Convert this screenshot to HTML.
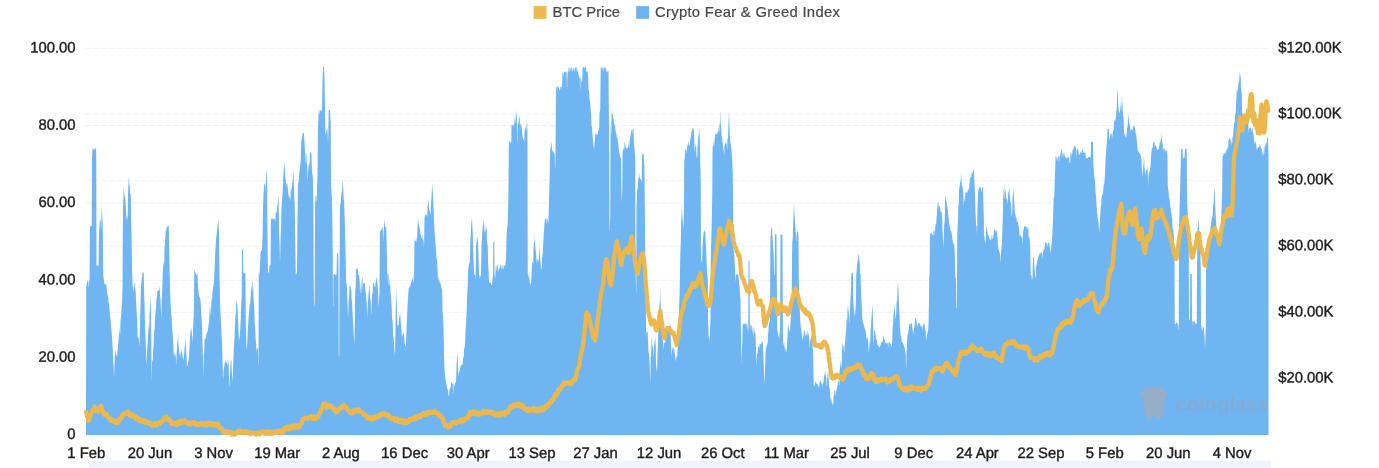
<!DOCTYPE html>
<html><head><meta charset="utf-8"><title>Crypto Fear &amp; Greed Index</title>
<style>
html,body{margin:0;padding:0;background:#fff;}
body{width:1379px;height:468px;overflow:hidden;font-family:"Liberation Sans",sans-serif;}
svg{display:block;will-change:transform;}
text{font-family:"Liberation Sans",sans-serif;font-size:15.2px;letter-spacing:0;fill:#1c1c1c;stroke:#1c1c1c;stroke-width:0.4px;}
.leg text{fill:#464646;stroke:#464646;stroke-width:0.2px;font-size:14.8px;letter-spacing:0;}
.grid line{stroke:#f0f0f0;stroke-width:1;stroke-dasharray:6 2;}
</style></head><body>
<svg width="1379" height="468" viewBox="0 0 1379 468">
<defs><clipPath id="cp"><rect x="86" y="40" width="1182.6" height="395"/></clipPath></defs>
<rect x="88.8" y="461" width="1182.2" height="7" fill="#eef3fc"/>
<g class="grid"><line x1="85.5" x2="1268" y1="48.25" y2="48.25"/><line x1="85.5" x2="1268" y1="114.25" y2="114.25"/><line x1="85.5" x2="1268" y1="125.60" y2="125.60"/><line x1="85.5" x2="1268" y1="180.25" y2="180.25"/><line x1="85.5" x2="1268" y1="202.95" y2="202.95"/><line x1="85.5" x2="1268" y1="246.25" y2="246.25"/><line x1="85.5" x2="1268" y1="280.30" y2="280.30"/><line x1="85.5" x2="1268" y1="312.25" y2="312.25"/><line x1="85.5" x2="1268" y1="357.65" y2="357.65"/><line x1="85.5" x2="1268" y1="378.25" y2="378.25"/></g>
<path d="M86.00,435.0 L86.00,405.4 L86.25,281.7 L86.50,286.0 L86.75,285.9 L87.00,281.6 L87.25,281.5 L87.50,282.2 L87.75,280.8 L88.00,280.6 L88.25,280.5 L88.50,286.7 L88.75,286.6 L89.00,281.3 L89.25,281.3 L89.50,280.7 L89.75,251.8 L90.00,225.8 L90.25,225.8 L90.50,225.8 L90.75,227.0 L91.00,226.2 L91.25,226.2 L91.50,226.3 L91.75,226.3 L92.00,157.3 L92.25,154.4 L92.50,148.2 L92.75,148.2 L93.00,148.5 L93.25,148.5 L93.50,149.7 L93.75,149.7 L94.00,148.8 L94.25,148.8 L94.50,149.2 L94.75,149.2 L95.00,148.8 L95.25,148.8 L95.50,149.3 L95.75,148.2 L96.00,148.2 L96.25,155.2 L96.50,265.9 L96.75,265.9 L97.00,265.2 L97.25,265.2 L97.50,264.9 L97.75,264.9 L98.00,265.5 L98.25,265.5 L98.50,268.7 L98.75,252.4 L99.00,232.9 L99.25,229.5 L99.50,225.2 L99.75,221.7 L100.00,219.6 L100.25,219.2 L100.50,221.0 L100.75,220.7 L101.00,229.7 L101.25,227.2 L101.50,212.9 L101.75,210.4 L102.00,207.0 L102.25,216.2 L102.50,219.7 L102.75,223.0 L103.00,248.3 L103.25,275.3 L103.50,276.5 L103.75,279.0 L104.00,281.1 L104.25,282.8 L104.50,284.1 L104.75,284.1 L105.00,284.8 L105.25,284.8 L105.50,284.9 L105.75,284.0 L106.00,284.0 L106.25,284.0 L106.50,286.6 L106.75,289.1 L107.00,291.9 L107.25,293.2 L107.50,294.9 L107.75,295.9 L108.00,296.6 L108.25,297.6 L108.50,302.5 L108.75,303.5 L109.00,302.4 L109.25,305.8 L109.50,310.2 L109.75,312.7 L110.00,315.4 L110.25,317.9 L110.50,319.5 L110.75,322.0 L111.00,325.4 L111.25,328.5 L111.50,330.5 L111.75,333.6 L112.00,337.2 L112.25,341.4 L112.50,345.7 L112.75,349.8 L113.00,355.5 L113.25,360.5 L113.50,364.0 L113.75,368.6 L114.00,377.8 L114.25,370.9 L114.50,364.3 L114.75,359.9 L115.00,350.2 L115.25,351.5 L115.50,352.2 L115.75,353.2 L116.00,354.4 L116.25,355.0 L116.50,355.3 L116.75,356.0 L117.00,357.8 L117.25,355.3 L117.50,351.5 L117.75,349.0 L118.00,347.2 L118.25,344.0 L118.50,340.5 L118.75,337.4 L119.00,334.2 L119.25,331.7 L119.50,329.6 L119.75,327.1 L120.00,335.6 L120.25,333.6 L120.50,321.0 L120.75,319.0 L121.00,316.6 L121.25,314.6 L121.50,309.3 L121.75,304.3 L122.00,304.9 L122.25,298.0 L122.50,286.0 L122.75,242.7 L123.00,207.9 L123.25,201.2 L123.50,195.1 L123.75,187.0 L124.00,189.7 L124.25,192.2 L124.50,194.9 L124.75,196.2 L125.00,197.7 L125.25,199.0 L125.50,200.6 L125.75,205.6 L126.00,210.0 L126.25,215.0 L126.50,216.8 L126.75,218.5 L127.00,221.0 L127.25,215.1 L127.50,220.4 L127.75,214.6 L128.00,195.5 L128.25,188.8 L128.50,182.3 L128.75,179.2 L129.00,175.8 L129.25,185.8 L129.50,183.6 L129.75,187.3 L130.00,192.3 L130.25,193.5 L130.50,193.9 L130.75,195.2 L131.00,211.5 L131.25,224.8 L131.50,232.5 L131.75,248.7 L132.00,268.9 L132.25,275.2 L132.50,283.9 L132.75,288.1 L133.00,285.3 L133.25,286.6 L133.50,290.9 L133.75,292.2 L134.00,288.7 L134.25,287.0 L134.50,284.3 L134.75,283.1 L135.00,281.5 L135.25,286.5 L135.50,289.9 L135.75,294.1 L136.00,299.5 L136.25,304.5 L136.50,309.6 L136.75,313.4 L137.00,317.5 L137.25,321.2 L137.50,333.8 L137.75,338.0 L138.00,335.7 L138.25,338.2 L138.50,336.8 L138.75,339.3 L139.00,341.6 L139.25,344.1 L139.50,346.5 L139.75,335.3 L140.00,325.6 L140.25,314.0 L140.50,306.8 L140.75,295.1 L141.00,286.5 L141.25,284.0 L141.50,281.6 L141.75,279.1 L142.00,278.0 L142.25,274.9 L142.50,272.5 L142.75,272.5 L143.00,272.5 L143.25,272.5 L143.50,272.5 L143.75,272.5 L144.00,289.9 L144.25,297.4 L144.50,304.6 L144.75,314.6 L145.00,324.2 L145.25,330.8 L145.50,337.4 L145.75,344.1 L146.00,349.9 L146.25,355.3 L146.50,365.1 L146.75,361.4 L147.00,353.4 L147.25,349.6 L147.50,345.6 L147.75,341.5 L148.00,337.1 L148.25,332.9 L148.50,328.6 L148.75,324.4 L149.00,329.4 L149.25,326.0 L149.50,314.8 L149.75,310.6 L150.00,307.1 L150.25,303.0 L150.50,298.2 L150.75,294.0 L151.00,315.7 L151.25,336.9 L151.50,365.9 L151.75,381.5 L152.00,363.6 L152.25,359.2 L152.50,361.9 L152.75,360.2 L153.00,354.4 L153.25,349.4 L153.50,345.3 L153.75,340.3 L154.00,334.7 L154.25,329.7 L154.50,330.3 L154.75,327.2 L155.00,318.2 L155.25,315.1 L155.50,312.6 L155.75,308.4 L156.00,309.1 L156.25,304.9 L156.50,298.4 L156.75,296.8 L157.00,295.9 L157.25,294.3 L157.50,291.5 L157.75,290.3 L158.00,290.4 L158.25,289.6 L158.50,290.6 L158.75,289.8 L159.00,291.4 L159.25,290.6 L159.50,284.0 L159.75,289.2 L160.00,293.5 L160.25,297.2 L160.50,299.1 L160.75,305.4 L161.00,311.9 L161.25,319.4 L161.50,309.8 L161.75,299.8 L162.00,295.1 L162.25,289.2 L162.50,282.1 L162.75,272.6 L163.00,269.9 L163.25,264.9 L163.50,263.6 L163.75,260.7 L164.00,266.1 L164.25,263.3 L164.50,247.8 L164.75,245.0 L165.00,242.8 L165.25,238.8 L165.50,235.3 L165.75,231.2 L166.00,225.8 L166.25,225.8 L166.50,230.8 L166.75,230.8 L167.00,226.8 L167.25,226.8 L167.50,226.8 L167.75,226.8 L168.00,225.8 L168.25,225.8 L168.50,225.8 L168.75,225.8 L169.00,242.1 L169.25,255.3 L169.50,265.3 L169.75,279.8 L170.00,287.7 L170.25,294.0 L170.50,302.5 L170.75,306.6 L171.00,310.8 L171.25,315.0 L171.50,316.4 L171.75,320.5 L172.00,325.1 L172.25,328.8 L172.50,331.6 L172.75,335.3 L173.00,339.7 L173.25,343.8 L173.50,348.5 L173.75,352.7 L174.00,356.5 L174.25,356.7 L174.50,352.8 L174.75,353.0 L175.00,356.1 L175.25,356.3 L175.50,353.9 L175.75,354.1 L176.00,364.0 L176.25,364.2 L176.50,355.5 L176.75,352.4 L177.00,345.7 L177.25,342.6 L177.50,341.8 L177.75,338.5 L178.00,331.5 L178.25,337.4 L178.50,344.7 L178.75,348.9 L179.00,348.0 L179.25,351.3 L179.50,354.3 L179.75,353.8 L180.00,357.8 L180.25,357.3 L180.50,353.4 L180.75,352.9 L181.00,352.4 L181.25,351.9 L181.50,350.9 L181.75,349.5 L182.00,349.0 L182.25,361.2 L182.50,352.1 L182.75,353.4 L183.00,358.1 L183.25,359.7 L183.50,357.7 L183.75,359.4 L184.00,356.1 L184.25,352.7 L184.50,349.5 L184.75,346.0 L185.00,347.5 L185.25,344.1 L185.50,335.2 L185.75,340.9 L186.00,346.4 L186.25,351.9 L186.50,356.6 L186.75,361.6 L187.00,367.2 L187.25,366.4 L187.50,365.1 L187.75,364.3 L188.00,363.1 L188.25,361.8 L188.50,360.7 L188.75,359.5 L189.00,355.5 L189.25,351.3 L189.50,347.1 L189.75,342.1 L190.00,337.3 L190.25,335.2 L190.50,332.4 L190.75,330.3 L191.00,329.0 L191.25,327.8 L191.50,330.3 L191.75,332.4 L192.00,334.7 L192.25,337.2 L192.50,343.4 L192.75,338.4 L193.00,329.0 L193.25,324.0 L193.50,319.0 L193.75,312.8 L194.00,307.6 L194.25,271.9 L194.50,269.0 L194.75,270.6 L195.00,271.7 L195.25,272.4 L195.50,273.1 L195.75,274.0 L196.00,274.0 L196.25,274.3 L196.50,275.2 L196.75,275.2 L197.00,274.1 L197.25,274.0 L197.50,274.0 L197.75,282.7 L198.00,285.4 L198.25,288.8 L198.50,291.8 L198.75,295.1 L199.00,295.5 L199.25,296.3 L199.50,296.8 L199.75,297.4 L200.00,298.4 L200.25,299.0 L200.50,299.6 L200.75,303.8 L201.00,308.8 L201.25,312.9 L201.50,316.0 L201.75,320.1 L202.00,325.2 L202.25,333.5 L202.50,343.2 L202.75,351.6 L203.00,362.5 L203.25,375.7 L203.50,365.9 L203.75,355.3 L204.00,355.4 L204.25,350.4 L204.50,339.7 L204.75,339.1 L205.00,338.3 L205.25,337.6 L205.50,339.6 L205.75,338.8 L206.00,335.7 L206.25,334.8 L206.50,334.3 L206.75,333.6 L207.00,332.9 L207.25,332.3 L207.50,331.9 L207.75,331.1 L208.00,329.5 L208.25,327.0 L208.50,325.5 L208.75,323.0 L209.00,322.3 L209.25,319.2 L209.50,312.9 L209.75,309.7 L210.00,306.8 L210.25,305.6 L210.50,316.0 L210.75,314.7 L211.00,309.2 L211.25,308.0 L211.50,299.3 L211.75,298.0 L212.00,300.8 L212.25,298.3 L212.50,291.7 L212.75,289.2 L213.00,288.0 L213.25,286.3 L213.50,285.8 L213.75,284.2 L214.00,280.4 L214.25,272.9 L214.50,271.4 L214.75,266.4 L215.00,257.3 L215.25,252.3 L215.50,248.8 L215.75,243.8 L216.00,239.7 L216.25,237.2 L216.50,235.8 L216.75,233.3 L217.00,230.3 L217.25,227.8 L217.50,225.8 L217.75,223.6 L218.00,223.6 L218.25,218.2 L218.50,224.2 L218.75,228.8 L219.00,232.9 L219.25,255.4 L219.50,277.5 L219.75,286.3 L220.00,298.0 L220.25,306.7 L220.50,312.5 L220.75,317.5 L221.00,322.2 L221.25,327.2 L221.50,333.7 L221.75,337.9 L222.00,340.5 L222.25,350.5 L222.50,359.1 L222.75,366.6 L223.00,379.9 L223.25,378.1 L223.50,371.4 L223.75,369.6 L224.00,368.1 L224.25,366.8 L224.50,364.5 L224.75,363.2 L225.00,361.5 L225.25,361.4 L225.50,361.3 L225.75,361.4 L226.00,362.1 L226.25,362.0 L226.50,363.3 L226.75,363.1 L227.00,360.7 L227.25,360.5 L227.50,365.2 L227.75,365.2 L228.00,365.2 L228.25,360.2 L228.50,360.2 L228.75,367.9 L229.00,377.9 L229.25,382.9 L229.50,388.2 L229.75,383.2 L230.00,374.6 L230.25,370.0 L230.50,365.7 L230.75,360.2 L231.00,360.2 L231.25,360.2 L231.50,360.2 L231.75,371.6 L232.00,374.5 L232.25,378.2 L232.50,381.9 L232.75,375.6 L233.00,369.5 L233.25,362.8 L233.50,356.4 L233.75,349.7 L234.00,346.2 L234.25,342.0 L234.50,337.4 L234.75,331.1 L235.00,325.1 L235.25,320.1 L235.50,316.8 L235.75,311.8 L236.00,316.3 L236.25,299.0 L236.50,301.7 L236.75,302.9 L237.00,302.9 L237.25,304.7 L237.50,307.1 L237.75,312.9 L238.00,318.6 L238.25,324.5 L238.50,330.2 L238.75,336.0 L239.00,341.6 L239.25,339.1 L239.50,338.6 L239.75,336.1 L240.00,332.2 L240.25,328.8 L240.50,325.1 L240.75,318.4 L241.00,310.9 L241.25,304.2 L241.50,300.3 L241.75,295.3 L242.00,249.5 L242.25,249.5 L242.50,249.5 L242.75,249.5 L243.00,249.5 L243.25,272.3 L243.50,273.4 L243.75,273.5 L244.00,272.5 L244.25,272.6 L244.50,273.2 L244.75,273.3 L245.00,273.6 L245.25,273.8 L245.50,273.8 L245.75,324.6 L246.00,333.1 L246.25,340.6 L246.50,345.0 L246.75,350.0 L247.00,348.8 L247.25,344.6 L247.50,336.6 L247.75,330.4 L248.00,326.9 L248.25,323.8 L248.50,318.4 L248.75,315.2 L249.00,312.9 L249.25,309.8 L249.50,306.2 L249.75,303.1 L250.00,304.9 L250.25,302.4 L250.50,297.9 L250.75,295.4 L251.00,290.5 L251.25,288.0 L251.50,286.0 L251.75,284.0 L252.00,292.4 L252.25,290.4 L252.50,276.5 L252.75,280.9 L253.00,285.1 L253.25,289.3 L253.50,297.3 L253.75,302.3 L254.00,304.5 L254.25,308.6 L254.50,317.2 L254.75,323.4 L255.00,324.9 L255.25,329.1 L255.50,336.4 L255.75,340.5 L256.00,342.7 L256.25,347.7 L256.50,350.7 L256.75,351.0 L257.00,348.0 L257.25,348.3 L257.50,348.4 L257.75,348.8 L258.00,349.8 L258.25,364.8 L258.50,364.1 L258.75,273.3 L259.00,272.8 L259.25,271.6 L259.50,277.9 L259.75,271.7 L260.00,262.7 L260.25,260.8 L260.50,253.7 L260.75,251.8 L261.00,250.2 L261.25,250.2 L261.50,250.8 L261.75,250.8 L262.00,249.7 L262.25,240.9 L262.50,238.4 L262.75,225.9 L263.00,207.2 L263.25,201.4 L263.50,195.6 L263.75,189.7 L264.00,187.7 L264.25,184.6 L264.50,183.6 L264.75,183.6 L265.00,184.3 L265.25,184.3 L265.50,192.0 L265.75,187.7 L266.00,174.4 L266.25,172.3 L266.50,168.2 L266.75,176.3 L267.00,182.3 L267.25,207.3 L267.50,234.9 L267.75,254.9 L268.00,272.6 L268.25,272.6 L268.50,272.3 L268.75,272.3 L269.00,273.0 L269.25,269.3 L269.50,265.2 L269.75,265.2 L270.00,265.5 L270.25,265.5 L270.50,265.3 L270.75,242.2 L271.00,218.2 L271.25,218.2 L271.50,218.7 L271.75,218.7 L272.00,219.6 L272.25,219.6 L272.50,218.3 L272.75,218.3 L273.00,219.2 L273.25,219.2 L273.50,218.2 L273.75,218.2 L274.00,219.4 L274.25,219.4 L274.50,218.4 L274.75,218.4 L275.00,223.6 L275.25,221.1 L275.50,214.5 L275.75,212.0 L276.00,212.0 L276.25,212.0 L276.50,213.1 L276.75,213.1 L277.00,209.1 L277.25,206.2 L277.50,204.9 L277.75,202.4 L278.00,198.4 L278.25,194.5 L278.50,201.2 L278.75,207.1 L279.00,223.2 L279.25,238.2 L279.50,242.3 L279.75,249.8 L280.00,263.1 L280.25,254.8 L280.50,241.0 L280.75,232.6 L281.00,229.4 L281.25,221.1 L281.50,209.0 L281.75,205.9 L282.00,200.9 L282.25,197.8 L282.50,195.2 L282.75,189.6 L283.00,184.2 L283.25,178.6 L283.50,173.2 L283.75,169.5 L284.00,165.7 L284.25,160.8 L284.50,165.3 L284.75,169.1 L285.00,173.1 L285.25,175.9 L285.50,177.7 L285.75,180.5 L286.00,184.1 L286.25,184.1 L286.50,184.0 L286.75,184.0 L287.00,187.8 L287.25,183.2 L287.50,183.2 L287.75,189.7 L288.00,189.0 L288.25,191.8 L288.50,195.5 L288.75,195.5 L289.00,198.3 L289.25,198.3 L289.50,195.4 L289.75,195.4 L290.00,200.7 L290.25,198.2 L290.50,200.8 L290.75,187.0 L291.00,191.3 L291.25,191.3 L291.50,187.7 L291.75,187.7 L292.00,187.3 L292.25,184.0 L292.50,181.2 L292.75,177.9 L293.00,175.4 L293.25,173.7 L293.50,172.0 L293.75,180.3 L294.00,188.3 L294.25,195.8 L294.50,200.4 L294.75,205.4 L295.00,222.7 L295.25,240.2 L295.50,258.6 L295.75,274.4 L296.00,274.1 L296.25,274.1 L296.50,274.3 L296.75,274.3 L297.00,266.1 L297.25,246.1 L297.50,219.4 L297.75,201.0 L298.00,182.1 L298.25,180.0 L298.50,184.1 L298.75,182.0 L299.00,175.0 L299.25,173.3 L299.50,171.2 L299.75,169.4 L300.00,167.8 L300.25,165.3 L300.50,162.1 L300.75,159.6 L301.00,150.9 L301.25,141.5 L301.50,140.5 L301.75,138.8 L302.00,138.0 L302.25,136.4 L302.50,133.0 L302.75,133.0 L303.00,133.0 L303.25,133.0 L303.50,133.0 L303.75,133.0 L304.00,135.8 L304.25,138.5 L304.50,141.6 L304.75,147.2 L305.00,153.6 L305.25,153.6 L305.50,162.9 L305.75,162.9 L306.00,152.9 L306.25,152.5 L306.50,155.8 L306.75,163.3 L307.00,164.6 L307.25,166.1 L307.50,179.4 L307.75,178.9 L308.00,171.0 L308.25,170.5 L308.50,165.6 L308.75,165.1 L309.00,163.9 L309.25,162.6 L309.50,166.6 L309.75,162.1 L310.00,152.5 L310.25,152.5 L310.50,152.5 L310.75,152.5 L311.00,152.5 L311.25,152.5 L311.50,156.4 L311.75,164.1 L312.00,171.4 L312.25,174.5 L312.50,173.5 L312.75,176.6 L313.00,184.9 L313.25,198.6 L313.50,208.1 L313.75,275.1 L314.00,304.4 L314.25,304.4 L314.50,308.8 L314.75,278.8 L315.00,207.5 L315.25,201.3 L315.50,194.5 L315.75,196.2 L316.00,196.0 L316.25,196.5 L316.50,201.8 L316.75,202.3 L317.00,189.1 L317.25,180.7 L317.50,176.6 L317.75,147.1 L318.00,126.6 L318.25,121.6 L318.50,115.5 L318.75,110.0 L319.00,110.0 L319.25,110.3 L319.50,114.0 L319.75,114.0 L320.00,110.4 L320.25,110.4 L320.50,110.0 L320.75,110.0 L321.00,110.2 L321.25,110.2 L321.50,111.3 L321.75,111.3 L322.00,111.4 L322.25,95.2 L322.50,80.6 L322.75,75.4 L323.00,67.0 L323.25,67.0 L323.50,67.0 L323.75,67.0 L324.00,67.0 L324.25,72.3 L324.50,78.5 L324.75,94.7 L325.00,110.8 L325.25,123.3 L325.50,135.5 L325.75,133.9 L326.00,133.3 L326.25,131.8 L326.50,130.2 L326.75,128.8 L327.00,128.8 L327.25,129.7 L327.50,129.7 L327.75,135.4 L328.00,145.8 L328.25,135.8 L328.50,120.9 L328.75,110.0 L329.00,110.0 L329.25,110.0 L329.50,110.0 L329.75,110.0 L330.00,110.0 L330.25,114.8 L330.50,119.6 L330.75,123.7 L331.00,182.9 L331.25,188.5 L331.50,190.8 L331.75,196.2 L332.00,199.6 L332.25,215.9 L332.50,232.3 L332.75,254.8 L333.00,306.3 L333.25,306.3 L333.50,274.3 L333.75,274.3 L334.00,274.2 L334.25,274.0 L334.50,274.0 L334.75,274.0 L335.00,274.0 L335.25,274.0 L335.50,275.8 L335.75,275.8 L336.00,275.2 L336.25,275.2 L336.50,274.0 L336.75,265.2 L337.00,253.2 L337.25,253.2 L337.50,253.2 L337.75,253.2 L338.00,253.2 L338.25,253.2 L338.50,269.5 L338.75,354.6 L339.00,356.5 L339.25,356.5 L339.50,274.5 L339.75,242.5 L340.00,207.2 L340.25,203.4 L340.50,204.2 L340.75,202.7 L341.00,197.2 L341.25,195.7 L341.50,193.7 L341.75,192.2 L342.00,191.3 L342.25,188.2 L342.50,183.5 L342.75,179.5 L343.00,184.5 L343.25,188.7 L343.50,196.3 L343.75,200.1 L344.00,199.8 L344.25,206.4 L344.50,213.3 L344.75,220.0 L345.00,229.5 L345.25,239.5 L345.50,249.7 L345.75,263.5 L346.00,279.0 L346.25,282.4 L346.50,283.5 L346.75,285.2 L347.00,288.6 L347.25,296.1 L347.50,302.6 L347.75,308.9 L348.00,319.1 L348.25,314.1 L348.50,304.0 L348.75,299.0 L349.00,296.9 L349.25,291.9 L349.50,284.0 L349.75,286.1 L350.00,285.4 L350.25,286.1 L350.50,286.7 L350.75,287.5 L351.00,289.4 L351.25,290.3 L351.50,296.2 L351.75,300.3 L352.00,301.6 L352.25,306.6 L352.50,312.8 L352.75,317.0 L353.00,320.3 L353.25,324.4 L353.50,330.2 L353.75,335.2 L354.00,340.5 L354.25,344.2 L354.50,337.8 L354.75,322.8 L355.00,303.6 L355.25,290.3 L355.50,287.8 L355.75,286.4 L356.00,268.2 L356.25,268.2 L356.50,269.2 L356.75,269.2 L357.00,269.3 L357.25,269.3 L357.50,270.6 L357.75,268.2 L358.00,268.2 L358.25,276.6 L358.50,275.0 L358.75,275.0 L359.00,274.0 L359.25,276.5 L359.50,280.1 L359.75,281.4 L360.00,292.3 L360.25,293.6 L360.50,284.8 L360.75,284.2 L361.00,292.7 L361.25,292.0 L361.50,281.6 L361.75,280.4 L362.00,289.9 L362.25,288.6 L362.50,276.5 L362.75,277.6 L363.00,283.4 L363.25,284.4 L363.50,282.0 L363.75,283.0 L364.00,283.0 L364.25,283.5 L364.50,283.0 L364.75,283.5 L365.00,285.3 L365.25,287.8 L365.50,290.0 L365.75,292.5 L366.00,294.2 L366.25,296.7 L366.50,301.3 L366.75,303.3 L367.00,315.8 L367.25,317.8 L367.50,307.6 L367.75,304.5 L368.00,301.3 L368.25,298.2 L368.50,294.1 L368.75,291.6 L369.00,290.0 L369.25,287.5 L369.50,284.0 L369.75,288.5 L370.00,295.7 L370.25,299.5 L370.50,299.3 L370.75,303.5 L371.00,311.2 L371.25,315.4 L371.50,306.7 L371.75,301.7 L372.00,297.5 L372.25,293.7 L372.50,294.4 L372.75,290.7 L373.00,281.5 L373.25,281.8 L373.50,283.7 L373.75,284.0 L374.00,283.5 L374.25,283.8 L374.50,286.2 L374.75,286.5 L375.00,287.7 L375.25,286.8 L375.50,282.7 L375.75,281.7 L376.00,281.2 L376.25,280.3 L376.50,278.5 L376.75,277.6 L377.00,276.5 L377.25,281.2 L377.50,284.2 L377.75,287.9 L378.00,291.6 L378.25,296.6 L378.50,301.8 L378.75,306.8 L379.00,301.5 L379.25,295.7 L379.50,289.7 L379.75,255.2 L380.00,232.1 L380.25,230.8 L380.50,230.9 L380.75,230.9 L381.00,229.6 L381.25,229.6 L381.50,229.9 L381.75,229.0 L382.00,228.4 L382.25,227.5 L382.50,225.8 L382.75,230.5 L383.00,238.1 L383.25,241.8 L383.50,233.8 L383.75,229.1 L384.00,223.1 L384.25,218.2 L384.50,222.0 L384.75,224.5 L385.00,226.1 L385.25,226.4 L385.50,227.5 L385.75,227.8 L386.00,226.8 L386.25,227.1 L386.50,237.9 L386.75,247.9 L387.00,258.4 L387.25,275.4 L387.50,274.3 L387.75,274.3 L388.00,285.3 L388.25,285.3 L388.50,274.0 L388.75,274.0 L389.00,274.0 L389.25,280.1 L389.50,283.8 L389.75,285.7 L390.00,283.9 L390.25,285.8 L390.50,291.1 L390.75,295.3 L391.00,295.0 L391.25,299.2 L391.50,304.3 L391.75,308.5 L392.00,316.5 L392.25,320.3 L392.50,319.9 L392.75,323.7 L393.00,332.7 L393.25,336.9 L393.50,336.3 L393.75,340.5 L394.00,343.4 L394.25,346.7 L394.50,350.4 L394.75,352.9 L395.00,356.9 L395.25,341.9 L395.50,324.7 L395.75,313.0 L396.00,302.1 L396.25,289.0 L396.50,297.2 L396.75,303.8 L397.00,309.6 L397.25,318.4 L397.50,326.6 L397.75,325.3 L398.00,325.4 L398.25,324.2 L398.50,326.3 L398.75,324.6 L399.00,319.1 L399.25,317.4 L399.50,316.0 L399.75,314.4 L400.00,311.5 L400.25,315.0 L400.50,319.1 L400.75,322.2 L401.00,324.9 L401.25,328.0 L401.50,331.2 L401.75,334.3 L402.00,336.8 L402.25,336.2 L402.50,335.5 L402.75,334.9 L403.00,334.2 L403.25,333.3 L403.50,333.7 L403.75,331.5 L404.00,334.5 L404.25,336.4 L404.50,342.3 L404.75,344.1 L405.00,345.4 L405.25,347.3 L405.50,344.8 L405.75,346.7 L406.00,342.2 L406.25,336.3 L406.50,329.6 L406.75,324.0 L407.00,318.4 L407.25,312.8 L407.50,306.7 L407.75,302.5 L408.00,298.7 L408.25,294.5 L408.50,291.5 L408.75,287.7 L409.00,288.3 L409.25,287.8 L409.50,286.5 L409.75,286.0 L410.00,287.6 L410.25,287.1 L410.50,283.7 L410.75,283.2 L411.00,283.2 L411.25,282.7 L411.50,280.9 L411.75,280.2 L412.00,280.6 L412.25,279.9 L412.50,278.7 L412.75,277.4 L413.00,275.8 L413.25,274.6 L413.50,282.3 L413.75,282.3 L414.00,279.5 L414.25,263.8 L414.50,240.8 L414.75,240.2 L415.00,238.2 L415.25,241.0 L415.50,240.5 L415.75,241.2 L416.00,242.0 L416.25,242.8 L416.50,240.0 L416.75,236.7 L417.00,239.1 L417.25,235.6 L417.50,225.8 L417.75,222.4 L418.00,218.2 L418.25,220.5 L418.50,222.7 L418.75,224.2 L419.00,225.4 L419.25,226.2 L419.50,227.6 L419.75,228.4 L420.00,230.4 L420.25,231.3 L420.50,233.5 L420.75,235.4 L421.00,234.3 L421.25,236.2 L421.50,238.9 L421.75,238.3 L422.00,236.8 L422.25,236.1 L422.50,234.5 L422.75,241.4 L423.00,237.8 L423.25,239.5 L423.50,241.5 L423.75,243.2 L424.00,249.1 L424.25,235.4 L424.50,217.3 L424.75,216.5 L425.00,215.7 L425.25,214.5 L425.50,215.5 L425.75,215.5 L426.00,214.9 L426.25,214.9 L426.50,215.0 L426.75,213.1 L427.00,217.2 L427.25,215.3 L427.50,207.2 L427.75,205.4 L428.00,204.4 L428.25,202.5 L428.50,199.5 L428.75,201.6 L429.00,208.8 L429.25,210.7 L429.50,209.1 L429.75,211.6 L430.00,212.4 L430.25,214.9 L430.50,213.2 L430.75,209.5 L431.00,204.0 L431.25,200.2 L431.50,196.4 L431.75,192.4 L432.00,188.4 L432.25,183.2 L432.50,188.1 L432.75,192.8 L433.00,197.5 L433.25,202.2 L433.50,208.7 L433.75,214.2 L434.00,219.4 L434.25,224.9 L434.50,230.0 L434.75,233.1 L435.00,236.2 L435.25,239.3 L435.50,243.3 L435.75,247.1 L436.00,250.4 L436.25,254.1 L436.50,257.2 L436.75,258.9 L437.00,260.9 L437.25,262.5 L437.50,270.4 L437.75,274.9 L438.00,279.3 L438.25,280.2 L438.50,276.7 L438.75,277.3 L439.00,282.4 L439.25,283.1 L439.50,279.2 L439.75,280.0 L440.00,282.1 L440.25,282.9 L440.50,283.4 L440.75,284.6 L441.00,286.4 L441.25,287.3 L441.50,288.2 L441.75,289.1 L442.00,289.4 L442.25,295.3 L442.50,311.1 L442.75,316.9 L443.00,313.1 L443.25,318.9 L443.50,327.1 L443.75,339.6 L444.00,353.4 L444.25,363.4 L444.50,370.2 L444.75,372.7 L445.00,375.0 L445.25,377.5 L445.50,379.7 L445.75,380.9 L446.00,382.4 L446.25,383.6 L446.50,384.5 L446.75,385.5 L447.00,387.2 L447.25,388.2 L447.50,389.1 L447.75,390.1 L448.00,389.8 L448.25,390.2 L448.50,395.9 L448.75,396.3 L449.00,395.1 L449.25,394.2 L449.50,390.4 L449.75,389.5 L450.00,387.7 L450.25,386.8 L450.50,389.1 L450.75,388.1 L451.00,384.5 L451.25,383.5 L451.50,381.5 L451.75,381.8 L452.00,382.0 L452.25,382.5 L452.50,383.9 L452.75,384.1 L453.00,393.6 L453.25,393.8 L453.50,383.7 L453.75,383.9 L454.00,384.4 L454.25,384.0 L454.50,386.9 L454.75,386.6 L455.00,383.5 L455.25,383.2 L455.50,382.4 L455.75,382.1 L456.00,381.9 L456.25,374.4 L456.50,367.4 L456.75,362.4 L457.00,357.1 L457.25,351.5 L457.50,355.9 L457.75,360.1 L458.00,366.1 L458.25,371.1 L458.50,375.8 L458.75,374.8 L459.00,372.8 L459.25,371.8 L459.50,371.6 L459.75,370.3 L460.00,368.8 L460.25,367.5 L460.50,366.1 L460.75,365.6 L461.00,366.2 L461.25,365.7 L461.50,364.9 L461.75,364.4 L462.00,364.0 L462.25,363.5 L462.50,365.1 L462.75,364.6 L463.00,359.9 L463.25,357.4 L463.50,358.3 L463.75,355.8 L464.00,349.3 L464.25,346.8 L464.50,350.1 L464.75,346.7 L465.00,343.9 L465.25,340.6 L465.50,330.7 L465.75,327.4 L466.00,324.7 L466.25,318.5 L466.50,316.7 L466.75,310.5 L467.00,299.3 L467.25,294.3 L467.50,289.3 L467.75,284.3 L468.00,273.1 L468.25,268.9 L468.50,267.2 L468.75,266.7 L469.00,264.0 L469.25,263.5 L469.50,263.3 L469.75,262.8 L470.00,253.2 L470.25,243.2 L470.50,238.3 L470.75,235.2 L471.00,227.2 L471.25,224.1 L471.50,220.5 L471.75,219.9 L472.00,218.2 L472.25,225.1 L472.50,228.3 L472.75,232.9 L473.00,243.1 L473.25,251.4 L473.50,257.5 L473.75,264.2 L474.00,271.3 L474.25,275.0 L474.50,275.0 L474.75,275.0 L475.00,274.8 L475.25,274.8 L475.50,279.6 L475.75,267.6 L476.00,247.6 L476.25,244.2 L476.50,241.6 L476.75,238.2 L477.00,238.1 L477.25,234.5 L477.50,238.2 L477.75,240.7 L478.00,242.1 L478.25,248.8 L478.50,256.8 L478.75,263.5 L479.00,275.4 L479.25,279.9 L479.50,274.5 L479.75,274.5 L480.00,277.5 L480.25,277.5 L480.50,274.9 L480.75,274.9 L481.00,275.4 L481.25,262.2 L481.50,246.0 L481.75,242.2 L482.00,237.6 L482.25,233.8 L482.50,230.0 L482.75,227.2 L483.00,225.4 L483.25,222.6 L483.50,218.2 L483.75,221.8 L484.00,223.9 L484.25,226.1 L484.50,232.6 L484.75,231.9 L485.00,230.5 L485.25,229.9 L485.50,224.5 L485.75,234.0 L486.00,227.2 L486.25,227.8 L486.50,227.6 L486.75,230.7 L487.00,243.2 L487.25,246.3 L487.50,239.7 L487.75,245.9 L488.00,258.4 L488.25,264.6 L488.50,269.2 L488.75,275.4 L489.00,279.7 L489.25,282.2 L489.50,282.4 L489.75,282.6 L490.00,283.0 L490.25,283.2 L490.50,282.6 L490.75,282.8 L491.00,283.9 L491.25,284.5 L491.50,284.2 L491.75,284.9 L492.00,285.5 L492.25,280.9 L492.50,277.4 L492.75,275.3 L493.00,283.5 L493.25,242.0 L493.50,242.0 L493.75,242.0 L494.00,242.0 L494.25,242.0 L494.50,275.1 L494.75,275.1 L495.00,278.5 L495.25,278.5 L495.50,271.6 L495.75,266.0 L496.00,265.9 L496.25,265.7 L496.50,270.4 L496.75,270.2 L497.00,265.0 L497.25,264.8 L497.50,264.7 L497.75,264.5 L498.00,271.8 L498.25,272.8 L498.50,268.0 L498.75,269.0 L499.00,270.3 L499.25,269.3 L499.50,268.7 L499.75,267.7 L500.00,266.3 L500.25,264.5 L500.50,264.5 L500.75,265.5 L501.00,268.7 L501.25,268.7 L501.50,264.9 L501.75,264.9 L502.00,269.5 L502.25,269.5 L502.50,265.3 L502.75,265.3 L503.00,269.5 L503.25,269.5 L503.50,268.0 L503.75,264.5 L504.00,264.5 L504.25,266.2 L504.50,265.6 L504.75,265.6 L505.00,265.9 L505.25,265.9 L505.50,263.4 L505.75,260.9 L506.00,263.0 L506.25,250.5 L506.50,235.4 L506.75,233.4 L507.00,229.5 L507.25,227.5 L507.50,225.2 L507.75,223.2 L508.00,215.0 L508.25,201.6 L508.50,183.0 L508.75,151.6 L509.00,141.2 L509.25,141.2 L509.50,141.2 L509.75,141.2 L510.00,141.2 L510.25,144.4 L510.50,142.6 L510.75,142.6 L511.00,142.1 L511.25,142.1 L511.50,125.0 L511.75,125.0 L512.00,125.0 L512.25,125.0 L512.50,125.0 L512.75,125.0 L513.00,126.4 L513.25,126.4 L513.50,125.0 L513.75,125.0 L514.00,126.2 L514.25,122.9 L514.50,119.5 L514.75,116.1 L515.00,124.6 L515.25,123.6 L515.50,118.8 L515.75,117.8 L516.00,110.0 L516.25,113.0 L516.50,114.2 L516.75,115.9 L517.00,120.1 L517.25,125.1 L517.50,143.6 L517.75,140.5 L518.00,124.9 L518.25,121.7 L518.50,123.7 L518.75,121.8 L519.00,113.8 L519.25,116.8 L519.50,117.5 L519.75,119.1 L520.00,126.2 L520.25,127.0 L520.50,122.6 L520.75,123.4 L521.00,123.8 L521.25,124.6 L521.50,125.6 L521.75,128.1 L522.00,130.2 L522.25,132.7 L522.50,136.2 L522.75,137.5 L523.00,138.0 L523.25,139.2 L523.50,140.5 L523.75,138.8 L524.00,142.8 L524.25,141.1 L524.50,133.1 L524.75,129.9 L525.00,129.0 L525.25,128.0 L525.50,127.1 L525.75,126.1 L526.00,132.1 L526.25,128.3 L526.50,113.8 L526.75,130.8 L527.00,121.4 L527.25,125.1 L527.50,142.6 L527.75,274.1 L528.00,274.8 L528.25,274.8 L528.50,277.7 L528.75,277.7 L529.00,274.0 L529.25,274.0 L529.50,281.2 L529.75,282.9 L530.00,283.5 L530.25,286.0 L530.50,284.6 L530.75,283.0 L531.00,282.9 L531.25,280.4 L531.50,274.3 L531.75,269.8 L532.00,263.1 L532.25,261.5 L532.50,263.6 L532.75,261.9 L533.00,265.2 L533.25,262.0 L533.50,248.1 L533.75,245.0 L534.00,243.2 L534.25,240.7 L534.50,241.5 L534.75,234.5 L535.00,243.1 L535.25,246.4 L535.50,248.2 L535.75,251.4 L536.00,252.1 L536.25,255.2 L536.50,263.2 L536.75,263.8 L537.00,258.6 L537.25,259.2 L537.50,259.8 L537.75,257.9 L538.00,262.7 L538.25,260.8 L538.50,261.1 L538.75,259.6 L539.00,254.1 L539.25,252.6 L539.50,245.8 L539.75,250.0 L540.00,254.0 L540.25,257.7 L540.50,262.0 L540.75,266.2 L541.00,269.6 L541.25,268.4 L541.50,269.8 L541.75,264.8 L542.00,258.5 L542.25,256.8 L542.50,254.6 L542.75,252.9 L543.00,248.4 L543.25,243.4 L543.50,238.2 L543.75,234.5 L544.00,230.9 L544.25,227.6 L544.50,223.1 L544.75,219.7 L545.00,219.1 L545.25,218.2 L545.50,218.2 L545.75,219.1 L546.00,223.2 L546.25,223.2 L546.50,219.6 L546.75,218.2 L547.00,218.2 L547.25,221.0 L547.50,218.6 L547.75,218.6 L548.00,223.6 L548.25,223.6 L548.50,217.7 L548.75,212.0 L549.00,200.8 L549.25,191.7 L549.50,182.6 L549.75,173.5 L550.00,155.2 L550.25,150.2 L550.50,148.9 L550.75,146.7 L551.00,143.9 L551.25,141.2 L551.50,144.5 L551.75,146.7 L552.00,149.0 L552.25,151.2 L552.50,150.4 L552.75,150.8 L553.00,151.5 L553.25,151.9 L553.50,152.2 L553.75,152.6 L554.00,153.4 L554.25,153.8 L554.50,154.1 L554.75,154.5 L555.00,167.7 L555.25,168.2 L555.50,155.6 L555.75,121.2 L556.00,86.2 L556.25,86.2 L556.50,87.4 L556.75,87.4 L557.00,89.6 L557.25,89.6 L557.50,86.6 L557.75,86.6 L558.00,86.8 L558.25,86.8 L558.50,86.7 L558.75,86.7 L559.00,88.9 L559.25,88.9 L559.50,90.7 L559.75,90.7 L560.00,88.9 L560.25,88.9 L560.50,86.2 L560.75,86.2 L561.00,87.1 L561.25,87.1 L561.50,87.3 L561.75,87.3 L562.00,86.3 L562.25,78.8 L562.50,71.2 L562.75,71.2 L563.00,73.2 L563.25,73.2 L563.50,76.2 L563.75,76.2 L564.00,71.8 L564.25,71.8 L564.50,72.0 L564.75,72.0 L565.00,72.4 L565.25,72.4 L565.50,71.9 L565.75,71.9 L566.00,71.2 L566.25,71.2 L566.50,71.4 L566.75,80.8 L567.00,90.6 L567.25,81.2 L567.50,72.8 L567.75,71.8 L568.00,73.0 L568.25,71.9 L568.50,67.0 L568.75,67.0 L569.00,72.0 L569.25,72.0 L569.50,68.5 L569.75,68.5 L570.00,67.7 L570.25,67.7 L570.50,70.6 L570.75,70.6 L571.00,67.2 L571.25,67.0 L571.50,67.0 L571.75,70.3 L572.00,72.6 L572.25,71.5 L572.50,70.1 L572.75,69.1 L573.00,67.0 L573.25,67.0 L573.50,70.6 L573.75,70.6 L574.00,68.0 L574.25,68.0 L574.50,72.0 L574.75,72.0 L575.00,67.4 L575.25,67.4 L575.50,67.7 L575.75,67.7 L576.00,70.7 L576.25,70.7 L576.50,67.6 L576.75,67.0 L577.00,67.0 L577.25,71.2 L577.50,70.0 L577.75,71.4 L578.00,72.8 L578.25,73.7 L578.50,74.1 L578.75,75.0 L579.00,77.0 L579.25,77.9 L579.50,77.8 L579.75,76.5 L580.00,89.4 L580.25,88.2 L580.50,72.5 L580.75,78.8 L581.00,77.4 L581.25,78.7 L581.50,82.9 L581.75,80.2 L582.00,82.7 L582.25,80.1 L582.50,67.0 L582.75,67.0 L583.00,67.4 L583.25,67.4 L583.50,67.0 L583.75,67.0 L584.00,67.8 L584.25,67.8 L584.50,68.0 L584.75,68.0 L585.00,67.6 L585.25,67.6 L585.50,67.2 L585.75,67.0 L586.00,67.0 L586.25,70.4 L586.50,72.2 L586.75,72.2 L587.00,71.3 L587.25,71.3 L587.50,72.3 L587.75,71.2 L588.00,76.2 L588.25,80.8 L588.50,88.4 L588.75,90.9 L589.00,91.1 L589.25,93.6 L589.50,97.7 L589.75,100.7 L590.00,101.1 L590.25,104.1 L590.50,108.1 L590.75,111.1 L591.00,113.4 L591.25,116.4 L591.50,124.2 L591.75,127.2 L592.00,126.8 L592.25,130.6 L592.50,133.9 L592.75,137.7 L593.00,140.6 L593.25,142.8 L593.50,145.4 L593.75,147.6 L594.00,150.2 L594.25,147.3 L594.50,144.0 L594.75,141.1 L595.00,136.9 L595.25,133.8 L595.50,133.8 L595.75,133.8 L596.00,133.8 L596.25,133.8 L596.50,133.8 L596.75,135.8 L597.00,134.5 L597.25,134.5 L597.50,135.0 L597.75,135.0 L598.00,131.6 L598.25,128.7 L598.50,132.1 L598.75,128.9 L599.00,129.1 L599.25,126.0 L599.50,113.6 L599.75,110.2 L600.00,112.1 L600.25,108.8 L600.50,85.4 L600.75,67.0 L601.00,67.0 L601.25,67.9 L601.50,67.5 L601.75,67.5 L602.00,69.3 L602.25,69.3 L602.50,67.1 L602.75,67.1 L603.00,72.0 L603.25,72.0 L603.50,67.2 L603.75,67.2 L604.00,67.4 L604.25,67.4 L604.50,68.0 L604.75,68.0 L605.00,67.5 L605.25,67.5 L605.50,70.4 L605.75,67.0 L606.00,67.0 L606.25,70.2 L606.50,72.4 L606.75,72.4 L607.00,71.5 L607.25,71.5 L607.50,72.0 L607.75,71.2 L608.00,71.2 L608.25,71.2 L608.50,71.2 L608.75,100.6 L609.00,127.6 L609.25,157.1 L609.50,231.0 L609.75,231.0 L610.00,220.0 L610.25,220.0 L610.50,128.3 L610.75,125.2 L611.00,134.6 L611.25,131.5 L611.50,115.3 L611.75,112.8 L612.00,110.0 L612.25,112.9 L612.50,113.6 L612.75,115.3 L613.00,117.5 L613.25,118.8 L613.50,118.8 L613.75,120.1 L614.00,123.7 L614.25,124.6 L614.50,124.1 L614.75,125.0 L615.00,126.3 L615.25,128.2 L615.50,130.2 L615.75,132.1 L616.00,132.9 L616.25,132.9 L616.50,137.2 L616.75,137.2 L617.00,133.2 L617.25,135.7 L617.50,138.1 L617.75,140.6 L618.00,142.8 L618.25,144.8 L618.50,146.4 L618.75,148.4 L619.00,151.8 L619.25,153.2 L619.50,153.0 L619.75,154.4 L620.00,156.4 L620.25,157.8 L620.50,157.6 L620.75,157.6 L621.00,157.4 L621.25,182.4 L621.50,192.7 L621.75,202.7 L622.00,197.3 L622.25,187.3 L622.50,154.5 L622.75,151.0 L623.00,150.4 L623.25,149.4 L623.50,148.5 L623.75,147.5 L624.00,150.2 L624.25,149.0 L624.50,143.5 L624.75,141.2 L625.00,143.0 L625.25,144.3 L625.50,146.4 L625.75,147.1 L626.00,147.4 L626.25,148.1 L626.50,148.8 L626.75,148.3 L627.00,148.6 L627.25,148.1 L627.50,148.8 L627.75,148.3 L628.00,146.5 L628.25,146.0 L628.50,143.8 L628.75,143.2 L629.00,148.6 L629.25,148.1 L629.50,141.6 L629.75,140.1 L630.00,138.8 L630.25,137.2 L630.50,135.3 L630.75,133.8 L631.00,132.8 L631.25,131.3 L631.50,128.8 L631.75,128.8 L632.00,133.8 L632.25,133.8 L632.50,129.5 L632.75,129.5 L633.00,128.8 L633.25,128.8 L633.50,128.8 L633.75,140.1 L634.00,144.1 L634.25,147.4 L634.50,148.1 L634.75,151.4 L635.00,153.5 L635.25,156.8 L635.50,274.4 L635.75,274.4 L636.00,292.3 L636.25,292.3 L636.50,207.4 L636.75,200.8 L637.00,194.0 L637.25,187.3 L637.50,189.9 L637.75,187.4 L638.00,180.8 L638.25,178.3 L638.50,176.9 L638.75,175.9 L639.00,178.8 L639.25,177.8 L639.50,172.0 L639.75,174.7 L640.00,178.3 L640.25,179.5 L640.50,178.0 L640.75,179.3 L641.00,179.8 L641.25,181.0 L641.50,182.0 L641.75,180.8 L642.00,156.2 L642.25,154.1 L642.50,154.6 L642.75,152.9 L643.00,152.5 L643.25,153.9 L643.50,154.8 L643.75,155.4 L644.00,162.7 L644.25,164.3 L644.50,175.1 L644.75,199.2 L645.00,229.1 L645.25,253.3 L645.50,263.0 L645.75,273.0 L646.00,330.1 L646.25,330.4 L646.50,334.0 L646.75,334.4 L647.00,330.8 L647.25,331.2 L647.50,332.3 L647.75,332.7 L648.00,341.3 L648.25,345.4 L648.50,350.4 L648.75,354.1 L649.00,352.7 L649.25,356.5 L649.50,360.1 L649.75,366.8 L650.00,376.6 L650.25,383.3 L650.50,368.3 L650.75,357.1 L651.00,356.2 L651.25,349.5 L651.50,336.5 L651.75,338.7 L652.00,343.0 L652.25,344.5 L652.50,346.3 L652.75,347.8 L653.00,347.1 L653.25,348.7 L653.50,357.1 L653.75,355.3 L654.00,346.5 L654.25,344.6 L654.50,342.6 L654.75,340.9 L655.00,339.4 L655.25,336.5 L655.50,341.6 L655.75,346.6 L656.00,365.6 L656.25,370.6 L656.50,363.0 L656.75,368.9 L657.00,375.1 L657.25,365.1 L657.50,354.4 L657.75,347.7 L658.00,340.8 L658.25,334.1 L658.50,326.9 L658.75,319.4 L659.00,312.3 L659.25,308.1 L659.50,304.1 L659.75,300.0 L660.00,303.1 L660.25,287.8 L660.50,298.6 L660.75,309.2 L661.00,317.5 L661.25,325.0 L661.50,332.2 L661.75,334.1 L662.00,336.1 L662.25,338.0 L662.50,339.1 L662.75,340.4 L663.00,341.7 L663.25,343.0 L663.50,348.9 L663.75,348.2 L664.00,343.9 L664.25,343.3 L664.50,342.5 L664.75,341.7 L665.00,342.9 L665.25,342.1 L665.50,339.0 L665.75,337.7 L666.00,336.5 L666.25,335.2 L666.50,337.8 L666.75,336.6 L667.00,330.6 L667.25,329.4 L667.50,329.2 L667.75,327.9 L668.00,331.0 L668.25,330.8 L668.50,327.0 L668.75,326.8 L669.00,326.4 L669.25,326.1 L669.50,334.4 L669.75,324.5 L670.00,324.2 L670.25,324.0 L670.50,331.0 L670.75,337.7 L671.00,344.5 L671.25,350.7 L671.50,356.9 L671.75,353.2 L672.00,349.6 L672.25,348.7 L672.50,350.3 L672.75,346.5 L673.00,346.8 L673.25,347.0 L673.50,348.4 L673.75,348.7 L674.00,352.7 L674.25,353.2 L674.50,349.1 L674.75,349.5 L675.00,360.0 L675.25,361.7 L675.50,354.2 L675.75,356.7 L676.00,360.2 L676.25,358.3 L676.50,356.7 L676.75,354.8 L677.00,357.4 L677.25,355.7 L677.50,349.5 L677.75,347.9 L678.00,340.7 L678.25,334.9 L678.50,329.5 L678.75,320.7 L679.00,311.8 L679.25,303.5 L679.50,297.3 L679.75,288.9 L680.00,270.1 L680.25,257.6 L680.50,248.3 L680.75,244.6 L681.00,232.2 L681.25,219.7 L681.50,214.6 L681.75,208.7 L682.00,202.0 L682.25,221.2 L682.50,214.0 L682.75,219.8 L683.00,224.5 L683.25,229.5 L683.50,222.9 L683.75,215.4 L684.00,208.2 L684.25,157.8 L684.50,161.2 L684.75,157.8 L685.00,150.4 L685.25,148.8 L685.50,149.0 L685.75,149.5 L686.00,150.3 L686.25,150.6 L686.50,153.8 L686.75,152.3 L687.00,147.6 L687.25,146.1 L687.50,145.4 L687.75,143.9 L688.00,142.7 L688.25,141.7 L688.50,141.2 L688.75,145.6 L689.00,144.3 L689.25,145.2 L689.50,146.5 L689.75,144.6 L690.00,142.0 L690.25,140.1 L690.50,138.3 L690.75,136.9 L691.00,135.9 L691.25,134.4 L691.50,132.4 L691.75,131.0 L692.00,128.8 L692.25,128.8 L692.50,128.8 L692.75,128.8 L693.00,128.8 L693.25,128.8 L693.50,128.8 L693.75,131.1 L694.00,133.7 L694.25,135.9 L694.50,151.5 L694.75,152.8 L695.00,142.5 L695.25,143.7 L695.50,146.8 L695.75,148.0 L696.00,145.8 L696.25,146.8 L696.50,155.9 L696.75,156.9 L697.00,157.4 L697.25,158.4 L697.50,148.0 L697.75,144.6 L698.00,140.6 L698.25,137.7 L698.50,134.9 L698.75,132.1 L699.00,128.8 L699.25,129.2 L699.50,135.3 L699.75,135.7 L700.00,154.4 L700.25,166.4 L700.50,169.7 L700.75,183.4 L701.00,258.5 L701.25,259.7 L701.50,261.6 L701.75,262.8 L702.00,263.8 L702.25,255.0 L702.50,245.8 L702.75,242.7 L703.00,239.2 L703.25,236.1 L703.50,233.0 L703.75,232.3 L704.00,231.8 L704.25,231.2 L704.50,229.5 L704.75,231.5 L705.00,231.2 L705.25,231.8 L705.50,236.8 L705.75,243.5 L706.00,245.7 L706.25,252.3 L706.50,259.2 L706.75,265.9 L707.00,272.4 L707.25,273.0 L707.50,276.8 L707.75,277.4 L708.00,321.3 L708.25,325.5 L708.50,334.5 L708.75,336.1 L709.00,340.2 L709.25,341.9 L709.50,336.3 L709.75,337.6 L710.00,330.1 L710.25,323.4 L710.50,317.7 L710.75,262.0 L711.00,248.3 L711.25,242.1 L711.50,233.2 L711.75,220.7 L712.00,208.3 L712.25,195.8 L712.50,153.3 L712.75,144.5 L713.00,146.9 L713.25,146.5 L713.50,141.5 L713.75,141.2 L714.00,146.2 L714.25,145.9 L714.50,140.3 L714.75,138.2 L715.00,136.9 L715.25,133.8 L715.50,133.8 L715.75,133.8 L716.00,134.1 L716.25,134.1 L716.50,134.2 L716.75,134.2 L717.00,134.5 L717.25,133.2 L717.50,132.6 L717.75,131.3 L718.00,132.1 L718.25,131.7 L718.50,130.0 L718.75,127.9 L719.00,124.9 L719.25,122.9 L719.50,133.6 L719.75,130.5 L720.00,117.3 L720.25,110.0 L720.50,120.0 L720.75,124.2 L721.00,124.9 L721.25,128.4 L721.50,134.0 L721.75,137.5 L722.00,136.8 L722.25,140.3 L722.50,141.8 L722.75,143.0 L723.00,150.1 L723.25,151.4 L723.50,146.5 L723.75,147.4 L724.00,155.7 L724.25,154.7 L724.50,146.0 L724.75,145.0 L725.00,144.7 L725.25,144.0 L725.50,143.5 L725.75,142.8 L726.00,141.2 L726.25,143.5 L726.50,143.4 L726.75,144.4 L727.00,150.3 L727.25,147.8 L727.50,140.7 L727.75,138.2 L728.00,136.4 L728.25,130.1 L728.50,123.6 L728.75,117.4 L729.00,110.0 L729.25,119.2 L729.50,127.6 L729.75,135.9 L730.00,138.3 L730.25,141.4 L730.50,143.3 L730.75,144.6 L731.00,146.5 L731.25,147.7 L731.50,149.1 L731.75,155.4 L732.00,157.2 L732.25,160.6 L732.50,167.6 L732.75,173.4 L733.00,196.8 L733.25,220.1 L733.50,248.5 L733.75,252.2 L734.00,249.8 L734.25,253.6 L734.50,257.6 L734.75,264.3 L735.00,271.0 L735.25,274.7 L735.50,280.8 L735.75,280.8 L736.00,274.9 L736.25,274.9 L736.50,274.0 L736.75,274.0 L737.00,275.0 L737.25,275.0 L737.50,274.1 L737.75,274.1 L738.00,274.0 L738.25,274.0 L738.50,276.7 L738.75,278.3 L739.00,283.4 L739.25,285.0 L739.50,285.1 L739.75,290.1 L740.00,294.1 L740.25,297.9 L740.50,299.1 L740.75,317.9 L741.00,336.7 L741.25,350.5 L741.50,364.4 L741.75,353.2 L742.00,347.6 L742.25,341.8 L742.50,330.6 L742.75,324.8 L743.00,324.5 L743.25,324.4 L743.50,323.6 L743.75,323.4 L744.00,324.1 L744.25,324.0 L744.50,324.2 L744.75,324.1 L745.00,324.0 L745.25,323.9 L745.50,323.5 L745.75,323.6 L746.00,323.2 L746.25,323.4 L746.50,324.4 L746.75,324.5 L747.00,328.9 L747.25,329.0 L747.50,324.0 L747.75,324.1 L748.00,334.0 L748.25,330.7 L748.50,260.8 L748.75,260.8 L749.00,260.8 L749.25,260.8 L749.50,260.8 L749.75,315.2 L750.00,326.1 L750.25,331.1 L750.50,324.5 L750.75,324.8 L751.00,325.3 L751.25,325.6 L751.50,325.5 L751.75,325.8 L752.00,332.5 L752.25,332.7 L752.50,327.3 L752.75,327.5 L753.00,336.7 L753.25,336.9 L753.50,327.4 L753.75,327.6 L754.00,333.7 L754.25,334.0 L754.50,328.9 L754.75,329.1 L755.00,331.9 L755.25,332.1 L755.50,336.4 L755.75,343.1 L756.00,349.3 L756.25,356.8 L756.50,365.2 L756.75,360.2 L757.00,355.1 L757.25,352.6 L757.50,353.7 L757.75,351.2 L758.00,346.4 L758.25,346.1 L758.50,346.3 L758.75,346.0 L759.00,348.8 L759.25,348.6 L759.50,345.4 L759.75,345.2 L760.00,344.3 L760.25,344.0 L760.50,344.4 L760.75,344.2 L761.00,344.0 L761.25,343.7 L761.50,343.0 L761.75,342.7 L762.00,342.3 L762.25,342.0 L762.50,341.8 L762.75,341.5 L763.00,348.5 L763.25,354.1 L763.50,358.6 L763.75,364.2 L764.00,371.6 L764.25,378.3 L764.50,384.4 L764.75,376.9 L765.00,369.4 L765.25,361.9 L765.50,356.2 L765.75,350.4 L766.00,344.9 L766.25,344.6 L766.50,348.2 L766.75,347.9 L767.00,344.8 L767.25,344.5 L767.50,343.1 L767.75,342.8 L768.00,325.0 L768.25,324.4 L768.50,333.8 L768.75,333.2 L769.00,322.9 L769.25,322.2 L769.50,321.1 L769.75,320.5 L770.00,323.0 L770.25,258.5 L770.50,236.5 L770.75,234.8 L771.00,229.5 L771.25,227.9 L771.50,227.5 L771.75,225.8 L772.00,230.9 L772.25,234.7 L772.50,237.6 L772.75,240.1 L773.00,244.1 L773.25,249.1 L773.50,252.0 L773.75,257.0 L774.00,268.2 L774.25,275.2 L774.50,274.8 L774.75,274.8 L775.00,234.5 L775.25,234.3 L775.50,234.2 L775.75,234.0 L776.00,234.2 L776.25,234.3 L776.50,234.5 L776.75,274.7 L777.00,303.7 L777.25,330.0 L777.50,329.8 L777.75,332.3 L778.00,332.8 L778.25,335.3 L778.50,336.9 L778.75,335.6 L779.00,339.0 L779.25,337.8 L779.50,332.8 L779.75,331.6 L780.00,329.6 L780.25,300.9 L780.50,234.5 L780.75,234.4 L781.00,234.4 L781.25,234.3 L781.50,234.5 L781.75,234.4 L782.00,235.5 L782.25,234.3 L782.50,234.5 L782.75,304.9 L783.00,341.9 L783.25,343.2 L783.50,344.2 L783.75,345.5 L784.00,341.5 L784.25,342.8 L784.50,347.1 L784.75,348.3 L785.00,351.7 L785.25,352.0 L785.50,347.3 L785.75,347.6 L786.00,351.6 L786.25,352.0 L786.50,349.3 L786.75,349.8 L787.00,344.7 L787.25,339.7 L787.50,337.5 L787.75,332.5 L788.00,324.0 L788.25,325.4 L788.50,327.0 L788.75,328.0 L789.00,329.2 L789.25,330.1 L789.50,330.8 L789.75,331.8 L790.00,332.1 L790.25,327.7 L790.50,323.3 L790.75,318.9 L791.00,314.6 L791.25,309.6 L791.50,304.6 L791.75,299.6 L792.00,261.4 L792.25,242.7 L792.50,239.7 L792.75,238.5 L793.00,229.4 L793.25,221.1 L793.50,215.1 L793.75,210.5 L794.00,202.8 L794.25,209.4 L794.50,214.6 L794.75,218.4 L795.00,222.5 L795.25,225.8 L795.50,229.9 L795.75,233.2 L796.00,234.6 L796.25,235.9 L796.50,241.5 L796.75,240.5 L797.00,231.9 L797.25,231.0 L797.50,233.1 L797.75,229.9 L798.00,229.5 L798.25,234.3 L798.50,238.4 L798.75,275.4 L799.00,287.0 L799.25,300.7 L799.50,304.4 L799.75,309.4 L800.00,315.3 L800.25,320.3 L800.50,324.2 L800.75,326.1 L801.00,329.0 L801.25,330.9 L801.50,331.5 L801.75,333.4 L802.00,335.7 L802.25,337.6 L802.50,340.3 L802.75,338.8 L803.00,337.0 L803.25,335.4 L803.50,334.0 L803.75,332.3 L804.00,342.5 L804.25,327.8 L804.50,330.9 L804.75,331.9 L805.00,330.8 L805.25,331.8 L805.50,335.2 L805.75,336.0 L806.00,335.3 L806.25,334.8 L806.50,333.8 L806.75,333.3 L807.00,337.0 L807.25,336.6 L807.50,331.7 L807.75,330.7 L808.00,330.2 L808.25,333.0 L808.50,334.2 L808.75,335.8 L809.00,336.6 L809.25,337.8 L809.50,346.5 L809.75,347.7 L810.00,342.1 L810.25,341.2 L810.50,340.0 L810.75,339.1 L811.00,339.0 L811.25,337.7 L811.50,336.1 L811.75,334.0 L812.00,337.0 L812.25,339.5 L812.50,344.5 L812.75,348.2 L813.00,350.3 L813.25,360.3 L813.50,372.3 L813.75,387.3 L814.00,383.7 L814.25,383.4 L814.50,386.1 L814.75,385.8 L815.00,385.5 L815.25,381.9 L815.50,381.5 L815.75,381.8 L816.00,382.0 L816.25,382.5 L816.50,383.6 L816.75,383.9 L817.00,384.2 L817.25,384.5 L817.50,384.6 L817.75,384.8 L818.00,384.1 L818.25,383.7 L818.50,388.0 L818.75,387.6 L819.00,387.0 L819.25,386.6 L819.50,382.6 L819.75,382.3 L820.00,382.1 L820.25,380.6 L820.50,380.2 L820.75,380.6 L821.00,382.1 L821.25,382.5 L821.50,383.1 L821.75,383.4 L822.00,385.9 L822.25,386.3 L822.50,383.7 L822.75,384.1 L823.00,384.1 L823.25,382.3 L823.50,381.4 L823.75,379.5 L824.00,377.2 L824.25,375.6 L824.50,374.8 L824.75,373.2 L825.00,370.2 L825.25,372.7 L825.50,374.3 L825.75,375.8 L826.00,377.0 L826.25,378.6 L826.50,385.4 L826.75,387.1 L827.00,380.3 L827.25,378.2 L827.50,375.8 L827.75,373.3 L828.00,370.2 L828.25,374.2 L828.50,376.7 L828.75,379.2 L829.00,386.4 L829.25,389.5 L829.50,386.6 L829.75,387.9 L830.00,393.0 L830.25,394.6 L830.50,398.8 L830.75,400.8 L831.00,397.5 L831.25,399.5 L831.50,400.9 L831.75,402.1 L832.00,404.5 L832.25,405.0 L832.50,403.3 L832.75,402.0 L833.00,405.9 L833.25,404.6 L833.50,397.1 L833.75,395.6 L834.00,394.9 L834.25,393.4 L834.50,391.0 L834.75,391.0 L835.00,391.0 L835.25,391.0 L835.50,395.9 L835.75,395.9 L836.00,391.1 L836.25,391.1 L836.50,391.1 L836.75,389.4 L837.00,387.9 L837.25,386.2 L837.50,384.4 L837.75,383.1 L838.00,382.4 L838.25,381.1 L838.50,381.7 L838.75,380.0 L839.00,386.5 L839.25,384.9 L839.50,372.0 L839.75,370.0 L840.00,368.0 L840.25,364.9 L840.50,362.0 L840.75,359.5 L841.00,369.5 L841.25,367.0 L841.50,364.9 L841.75,362.4 L842.00,351.8 L842.25,349.3 L842.50,341.5 L842.75,344.9 L843.00,344.5 L843.25,345.5 L843.50,346.4 L843.75,347.6 L844.00,351.5 L844.25,352.8 L844.50,347.3 L844.75,345.3 L845.00,343.3 L845.25,340.2 L845.50,337.3 L845.75,334.0 L846.00,331.1 L846.25,327.8 L846.50,321.9 L846.75,316.9 L847.00,321.3 L847.25,319.2 L847.50,311.0 L847.75,307.9 L848.00,304.0 L848.25,308.1 L848.50,310.1 L848.75,312.6 L849.00,320.2 L849.25,323.9 L849.50,317.1 L849.75,313.8 L850.00,309.8 L850.25,304.8 L850.50,299.1 L850.75,294.1 L851.00,290.4 L851.25,272.5 L851.50,272.5 L851.75,276.6 L852.00,273.5 L852.25,273.5 L852.50,273.5 L852.75,272.5 L853.00,272.5 L853.25,303.3 L853.50,304.6 L853.75,306.7 L854.00,309.4 L854.25,311.5 L854.50,313.4 L854.75,315.5 L855.00,316.8 L855.25,312.4 L855.50,308.0 L855.75,303.6 L856.00,299.5 L856.25,274.1 L856.50,272.5 L856.75,269.1 L857.00,265.2 L857.25,263.2 L857.50,261.9 L857.75,259.9 L858.00,257.9 L858.25,256.9 L858.50,255.6 L858.75,254.6 L859.00,253.2 L859.25,259.2 L859.50,260.0 L859.75,263.0 L860.00,271.1 L860.25,274.5 L860.50,273.1 L860.75,282.6 L861.00,291.4 L861.25,296.4 L861.50,300.4 L861.75,305.4 L862.00,314.5 L862.25,319.5 L862.50,319.9 L862.75,320.8 L863.00,322.3 L863.25,323.3 L863.50,323.8 L863.75,325.1 L864.00,325.4 L864.25,326.6 L864.50,327.9 L864.75,328.7 L865.00,329.8 L865.25,330.5 L865.50,330.4 L865.75,331.1 L866.00,336.8 L866.25,337.6 L866.50,338.9 L866.75,339.6 L867.00,335.3 L867.25,336.6 L867.50,338.0 L867.75,339.2 L868.00,340.5 L868.25,341.8 L868.50,350.8 L868.75,352.0 L869.00,346.7 L869.25,347.9 L869.50,343.9 L869.75,341.1 L870.00,343.2 L870.25,340.4 L870.50,332.6 L870.75,328.8 L871.00,325.7 L871.25,322.4 L871.50,317.7 L871.75,314.4 L872.00,311.3 L872.25,308.0 L872.50,304.0 L872.75,311.3 L873.00,322.8 L873.25,329.0 L873.50,342.4 L873.75,342.7 L874.00,330.2 L874.25,330.5 L874.50,330.7 L874.75,331.0 L875.00,336.0 L875.25,336.4 L875.50,332.6 L875.75,334.1 L876.00,338.0 L876.25,339.5 L876.50,338.7 L876.75,340.3 L877.00,341.6 L877.25,343.2 L877.50,345.1 L877.75,345.4 L878.00,345.0 L878.25,345.3 L878.50,346.7 L878.75,347.2 L879.00,346.8 L879.25,347.2 L879.50,347.5 L879.75,347.0 L880.00,346.3 L880.25,345.8 L880.50,344.9 L880.75,344.4 L881.00,343.2 L881.25,342.7 L881.50,342.2 L881.75,341.7 L882.00,342.0 L882.25,341.2 L882.50,342.7 L882.75,341.9 L883.00,337.5 L883.25,336.5 L883.50,335.2 L883.75,337.1 L884.00,338.5 L884.25,339.5 L884.50,339.2 L884.75,340.2 L885.00,341.2 L885.25,342.1 L885.50,342.9 L885.75,342.8 L886.00,343.9 L886.25,343.8 L886.50,342.4 L886.75,342.3 L887.00,343.3 L887.25,343.2 L887.50,342.9 L887.75,342.9 L888.00,346.9 L888.25,346.8 L888.50,342.5 L888.75,342.4 L889.00,342.0 L889.25,341.5 L889.50,341.9 L889.75,343.2 L890.00,343.0 L890.25,343.4 L890.50,344.1 L890.75,344.4 L891.00,345.7 L891.25,346.0 L891.50,346.1 L891.75,346.5 L892.00,343.9 L892.25,339.3 L892.50,332.0 L892.75,325.7 L893.00,324.4 L893.25,321.9 L893.50,314.9 L893.75,312.4 L894.00,308.6 L894.25,304.0 L894.50,307.0 L894.75,309.5 L895.00,311.6 L895.25,315.4 L895.50,320.3 L895.75,317.0 L896.00,316.1 L896.25,312.7 L896.50,305.4 L896.75,300.4 L897.00,300.8 L897.25,297.4 L897.50,289.6 L897.75,285.3 L898.00,280.2 L898.25,287.9 L898.50,289.7 L898.75,299.7 L899.00,305.4 L899.25,310.4 L899.50,314.4 L899.75,321.9 L900.00,329.5 L900.25,331.0 L900.50,333.5 L900.75,335.1 L901.00,335.7 L901.25,337.8 L901.50,339.8 L901.75,341.9 L902.00,342.1 L902.25,342.4 L902.50,342.7 L902.75,343.0 L903.00,344.2 L903.25,344.5 L903.50,343.9 L903.75,344.2 L904.00,346.9 L904.25,347.1 L904.50,346.9 L904.75,348.5 L905.00,350.1 L905.25,351.7 L905.50,352.9 L905.75,354.9 L906.00,369.7 L906.25,365.9 L906.50,352.8 L906.75,349.0 L907.00,342.2 L907.25,338.4 L907.50,335.4 L907.75,334.1 L908.00,334.0 L908.25,332.7 L908.50,330.2 L908.75,328.5 L909.00,327.0 L909.25,325.3 L909.50,324.5 L909.75,324.4 L910.00,323.6 L910.25,323.4 L910.50,324.4 L910.75,324.3 L911.00,323.9 L911.25,323.8 L911.50,322.9 L911.75,322.8 L912.00,324.6 L912.25,325.7 L912.50,330.3 L912.75,331.4 L913.00,328.5 L913.25,330.0 L913.50,334.5 L913.75,332.7 L914.00,329.2 L914.25,327.3 L914.50,325.2 L914.75,323.3 L915.00,321.0 L915.25,319.1 L915.50,316.5 L915.75,318.1 L916.00,319.3 L916.25,320.2 L916.50,320.9 L916.75,322.2 L917.00,327.0 L917.25,328.3 L917.50,324.3 L917.75,324.1 L918.00,324.7 L918.25,323.2 L918.50,323.1 L918.75,323.0 L919.00,322.9 L919.25,322.8 L919.50,323.1 L919.75,324.6 L920.00,323.9 L920.25,324.3 L920.50,325.8 L920.75,326.2 L921.00,325.5 L921.25,325.9 L921.50,327.3 L921.75,327.7 L922.00,326.7 L922.25,326.3 L922.50,329.6 L922.75,329.2 L923.00,324.5 L923.25,324.2 L923.50,324.6 L923.75,324.3 L924.00,323.1 L924.25,322.8 L924.50,324.3 L924.75,325.7 L925.00,328.1 L925.25,329.5 L925.50,330.4 L925.75,331.8 L926.00,339.5 L926.25,340.9 L926.50,335.6 L926.75,337.0 L927.00,335.4 L927.25,333.8 L927.50,332.7 L927.75,331.1 L928.00,330.5 L928.25,328.4 L928.50,325.3 L928.75,312.8 L929.00,299.5 L929.25,274.5 L929.50,278.0 L929.75,259.8 L930.00,234.7 L930.25,234.1 L930.50,233.2 L930.75,233.2 L931.00,233.2 L931.25,233.2 L931.50,233.2 L931.75,233.2 L932.00,233.8 L932.25,233.8 L932.50,234.7 L932.75,234.7 L933.00,236.0 L933.25,234.7 L933.50,230.8 L933.75,229.5 L934.00,234.4 L934.25,234.4 L934.50,230.5 L934.75,230.5 L935.00,231.4 L935.25,228.3 L935.50,224.3 L935.75,223.8 L936.00,223.9 L936.25,223.5 L936.50,219.1 L936.75,215.8 L937.00,212.3 L937.25,209.1 L937.50,206.1 L937.75,202.9 L938.00,199.0 L938.25,201.9 L938.50,205.4 L938.75,207.2 L939.00,205.6 L939.25,206.1 L939.50,206.2 L939.75,206.7 L940.00,207.7 L940.25,209.4 L940.50,210.6 L940.75,212.2 L941.00,212.1 L941.25,211.8 L941.50,212.2 L941.75,210.8 L942.00,216.6 L942.25,222.0 L942.50,230.0 L942.75,234.5 L943.00,236.7 L943.25,241.3 L943.50,245.2 L943.75,245.8 L944.00,230.8 L944.25,219.6 L944.50,226.3 L944.75,219.7 L945.00,200.0 L945.25,197.8 L945.50,195.0 L945.75,198.2 L946.00,199.2 L946.25,201.1 L946.50,201.9 L946.75,202.4 L947.00,208.7 L947.25,209.2 L947.50,203.8 L947.75,207.5 L948.00,211.3 L948.25,215.0 L948.50,217.2 L948.75,219.1 L949.00,222.6 L949.25,224.4 L949.50,224.9 L949.75,226.8 L950.00,228.2 L950.25,230.1 L950.50,230.8 L950.75,231.1 L951.00,231.2 L951.25,231.5 L951.50,232.4 L951.75,234.0 L952.00,235.9 L952.25,237.4 L952.50,239.3 L952.75,240.5 L953.00,244.7 L953.25,245.9 L953.50,243.0 L953.75,243.0 L954.00,242.7 L954.25,242.7 L954.50,248.4 L954.75,253.4 L955.00,261.6 L955.25,271.6 L955.50,278.6 L955.75,278.6 L956.00,279.5 L956.25,309.5 L956.50,308.2 L956.75,308.2 L957.00,278.5 L957.25,236.5 L957.50,228.6 L957.75,224.0 L958.00,218.4 L958.25,206.5 L958.50,205.8 L958.75,203.3 L959.00,190.6 L959.25,188.1 L959.50,186.7 L959.75,185.0 L960.00,183.6 L960.25,181.1 L960.50,182.4 L960.75,179.9 L961.00,172.0 L961.25,176.9 L961.50,181.4 L961.75,185.6 L962.00,185.4 L962.25,185.9 L962.50,187.3 L962.75,187.8 L963.00,191.2 L963.25,193.0 L963.50,204.1 L963.75,206.0 L964.00,195.5 L964.25,197.4 L964.50,199.2 L964.75,201.0 L965.00,202.1 L965.25,197.1 L965.50,192.0 L965.75,192.2 L966.00,192.6 L966.25,192.6 L966.50,192.8 L966.75,192.8 L967.00,191.3 L967.25,190.3 L967.50,193.4 L967.75,192.4 L968.00,188.0 L968.25,188.6 L968.50,189.6 L968.75,190.2 L969.00,190.5 L969.25,187.4 L969.50,183.8 L969.75,180.7 L970.00,178.1 L970.25,176.9 L970.50,178.1 L970.75,176.9 L971.00,172.0 L971.25,172.0 L971.50,177.5 L971.75,177.5 L972.00,172.6 L972.25,172.6 L972.50,173.2 L972.75,172.5 L973.00,170.5 L973.25,169.8 L973.50,170.1 L973.75,168.2 L974.00,173.6 L974.25,178.2 L974.50,183.5 L974.75,188.5 L975.00,193.3 L975.25,203.3 L975.50,213.8 L975.75,216.3 L976.00,224.8 L976.25,227.3 L976.50,224.3 L976.75,227.7 L977.00,235.0 L977.25,223.7 L977.50,208.3 L977.75,202.5 L978.00,196.2 L978.25,190.4 L978.50,189.4 L978.75,188.7 L979.00,187.9 L979.25,187.0 L979.50,187.0 L979.75,187.8 L980.00,187.5 L980.25,187.5 L980.50,187.8 L980.75,187.8 L981.00,189.8 L981.25,189.8 L981.50,192.0 L981.75,192.0 L982.00,187.3 L982.25,187.3 L982.50,188.2 L982.75,187.0 L983.00,187.0 L983.25,197.7 L983.50,208.2 L983.75,215.7 L984.00,236.1 L984.25,243.6 L984.50,232.9 L984.75,236.2 L985.00,240.6 L985.25,241.9 L985.50,243.2 L985.75,238.2 L986.00,232.5 L986.25,227.5 L986.50,226.6 L986.75,225.8 L987.00,229.2 L987.25,231.3 L987.50,233.3 L987.75,233.9 L988.00,235.3 L988.25,235.9 L988.50,235.5 L988.75,236.3 L989.00,237.6 L989.25,238.4 L989.50,237.9 L989.75,238.4 L990.00,239.8 L990.25,240.3 L990.50,240.4 L990.75,239.4 L991.00,240.4 L991.25,239.4 L991.50,236.6 L991.75,234.5 L992.00,235.0 L992.25,235.6 L992.50,239.1 L992.75,239.6 L993.00,239.0 L993.25,237.5 L993.50,234.7 L993.75,233.2 L994.00,231.1 L994.25,229.5 L994.50,229.5 L994.75,229.5 L995.00,230.9 L995.25,230.9 L995.50,230.1 L995.75,230.1 L996.00,232.6 L996.25,232.6 L996.50,229.5 L996.75,229.5 L997.00,233.2 L997.25,235.7 L997.50,237.3 L997.75,239.8 L998.00,248.4 L998.25,250.3 L998.50,246.6 L998.75,248.5 L999.00,250.8 L999.25,251.7 L999.50,252.1 L999.75,253.0 L1000.00,254.5 L1000.25,255.3 L1000.50,260.9 L1000.75,261.7 L1001.00,253.9 L1001.25,250.8 L1001.50,247.8 L1001.75,245.9 L1002.00,240.9 L1002.25,232.2 L1002.50,227.0 L1002.75,218.7 L1003.00,205.2 L1003.25,196.9 L1003.50,192.6 L1003.75,189.8 L1004.00,187.5 L1004.25,183.2 L1004.50,197.9 L1004.75,199.1 L1005.00,188.6 L1005.25,189.9 L1005.50,190.8 L1005.75,192.0 L1006.00,197.4 L1006.25,198.2 L1006.50,199.1 L1006.75,199.9 L1007.00,198.0 L1007.25,201.3 L1007.50,205.6 L1007.75,201.4 L1008.00,197.0 L1008.25,192.8 L1008.50,190.9 L1008.75,189.6 L1009.00,193.8 L1009.25,187.0 L1009.50,190.6 L1009.75,193.1 L1010.00,200.4 L1010.25,202.9 L1010.50,200.3 L1010.75,202.8 L1011.00,205.0 L1011.25,207.5 L1011.50,214.1 L1011.75,216.6 L1012.00,216.0 L1012.25,211.7 L1012.50,199.8 L1012.75,195.5 L1013.00,193.9 L1013.25,191.4 L1013.50,187.0 L1013.75,193.1 L1014.00,198.3 L1014.25,203.3 L1014.50,206.8 L1014.75,210.5 L1015.00,213.5 L1015.25,214.1 L1015.50,215.8 L1015.75,216.8 L1016.00,216.8 L1016.25,217.8 L1016.50,219.7 L1016.75,220.7 L1017.00,221.2 L1017.25,221.7 L1017.50,221.6 L1017.75,222.1 L1018.00,223.5 L1018.25,225.0 L1018.50,225.7 L1018.75,227.2 L1019.00,229.3 L1019.25,230.8 L1019.50,234.9 L1019.75,235.9 L1020.00,235.3 L1020.25,236.3 L1020.50,234.6 L1020.75,235.1 L1021.00,236.9 L1021.25,237.4 L1021.50,237.3 L1021.75,237.8 L1022.00,237.0 L1022.25,235.3 L1022.50,244.1 L1022.75,242.8 L1023.00,231.9 L1023.25,230.7 L1023.50,229.4 L1023.75,229.0 L1024.00,226.2 L1024.25,225.8 L1024.50,226.7 L1024.75,226.7 L1025.00,226.8 L1025.25,226.8 L1025.50,225.8 L1025.75,225.8 L1026.00,227.2 L1026.25,227.2 L1026.50,227.2 L1026.75,227.2 L1027.00,228.8 L1027.25,228.8 L1027.50,230.5 L1027.75,225.8 L1028.00,225.8 L1028.25,228.8 L1028.50,234.4 L1028.75,236.5 L1029.00,239.1 L1029.25,240.3 L1029.50,235.9 L1029.75,237.2 L1030.00,244.9 L1030.25,249.9 L1030.50,262.7 L1030.75,275.2 L1031.00,275.4 L1031.25,275.4 L1031.50,275.9 L1031.75,279.6 L1032.00,279.9 L1032.25,279.4 L1032.50,278.4 L1032.75,267.9 L1033.00,257.0 L1033.25,257.0 L1033.50,257.0 L1033.75,257.0 L1034.00,261.1 L1034.25,264.5 L1034.50,268.7 L1034.75,269.9 L1035.00,275.5 L1035.25,276.7 L1035.50,278.1 L1035.75,276.2 L1036.00,268.4 L1036.25,266.5 L1036.50,265.2 L1036.75,264.0 L1037.00,262.2 L1037.25,261.0 L1037.50,260.7 L1037.75,259.5 L1038.00,258.0 L1038.25,257.3 L1038.50,256.8 L1038.75,256.1 L1039.00,254.9 L1039.25,253.2 L1039.50,253.2 L1039.75,254.7 L1040.00,254.3 L1040.25,254.3 L1040.50,253.6 L1040.75,253.1 L1041.00,252.8 L1041.25,252.3 L1041.50,252.6 L1041.75,252.1 L1042.00,258.5 L1042.25,258.3 L1042.50,254.2 L1042.75,253.9 L1043.00,253.6 L1043.25,252.4 L1043.50,249.8 L1043.75,248.5 L1044.00,245.9 L1044.25,245.5 L1044.50,250.6 L1044.75,250.2 L1045.00,243.1 L1045.25,242.4 L1045.50,242.0 L1045.75,243.2 L1046.00,242.4 L1046.25,242.4 L1046.50,242.9 L1046.75,242.9 L1047.00,247.0 L1047.25,247.0 L1047.50,244.2 L1047.75,244.2 L1048.00,243.1 L1048.25,243.1 L1048.50,242.9 L1048.75,242.9 L1049.00,242.0 L1049.25,242.0 L1049.50,245.2 L1049.75,247.7 L1050.00,249.7 L1050.25,250.9 L1050.50,253.5 L1050.75,250.1 L1051.00,251.3 L1051.25,248.0 L1051.50,244.4 L1051.75,242.5 L1052.00,237.2 L1052.25,235.3 L1052.50,230.4 L1052.75,225.4 L1053.00,220.1 L1053.25,211.7 L1053.50,204.8 L1053.75,196.5 L1054.00,197.4 L1054.25,196.2 L1054.50,187.0 L1054.75,180.4 L1055.00,173.0 L1055.25,168.6 L1055.50,156.2 L1055.75,156.2 L1056.00,156.5 L1056.25,156.5 L1056.50,158.6 L1056.75,158.6 L1057.00,161.2 L1057.25,161.2 L1057.50,157.5 L1057.75,157.5 L1058.00,156.6 L1058.25,156.6 L1058.50,156.2 L1058.75,156.2 L1059.00,161.7 L1059.25,161.7 L1059.50,156.3 L1059.75,156.3 L1060.00,156.6 L1060.25,155.0 L1060.50,154.0 L1060.75,152.5 L1061.00,150.1 L1061.25,149.7 L1061.50,149.2 L1061.75,148.8 L1062.00,155.9 L1062.25,157.2 L1062.50,152.8 L1062.75,152.8 L1063.00,156.1 L1063.25,156.1 L1063.50,153.5 L1063.75,152.5 L1064.00,152.5 L1064.25,152.5 L1064.50,154.6 L1064.75,155.9 L1065.00,156.5 L1065.25,157.3 L1065.50,157.4 L1065.75,157.4 L1066.00,159.5 L1066.25,159.5 L1066.50,157.0 L1066.75,157.0 L1067.00,158.0 L1067.25,158.0 L1067.50,157.6 L1067.75,157.6 L1068.00,157.8 L1068.25,157.8 L1068.50,157.0 L1068.75,157.0 L1069.00,157.6 L1069.25,157.6 L1069.50,162.5 L1069.75,162.5 L1070.00,163.2 L1070.25,162.5 L1070.50,152.6 L1070.75,152.2 L1071.00,156.9 L1071.25,156.6 L1071.50,152.5 L1071.75,152.2 L1072.00,154.5 L1072.25,154.2 L1072.50,150.3 L1072.75,149.7 L1073.00,150.0 L1073.25,149.5 L1073.50,148.4 L1073.75,147.9 L1074.00,146.9 L1074.25,146.4 L1074.50,146.1 L1074.75,145.4 L1075.00,145.0 L1075.25,146.1 L1075.50,146.8 L1075.75,147.4 L1076.00,156.1 L1076.25,156.2 L1076.50,149.9 L1076.75,150.1 L1077.00,148.8 L1077.25,149.0 L1077.50,149.4 L1077.75,149.6 L1078.00,149.1 L1078.25,149.7 L1078.50,153.1 L1078.75,153.7 L1079.00,154.6 L1079.25,155.3 L1079.50,154.8 L1079.75,154.6 L1080.00,153.3 L1080.25,153.1 L1080.50,151.8 L1080.75,151.6 L1081.00,151.5 L1081.25,151.1 L1081.50,154.1 L1081.75,153.7 L1082.00,151.1 L1082.25,149.2 L1082.50,148.8 L1082.75,149.3 L1083.00,151.3 L1083.25,151.8 L1083.50,152.4 L1083.75,152.9 L1084.00,152.1 L1084.25,152.2 L1084.50,152.9 L1084.75,153.0 L1085.00,153.6 L1085.25,152.4 L1085.50,152.5 L1085.75,157.5 L1086.00,157.4 L1086.25,158.2 L1086.50,158.3 L1086.75,159.1 L1087.00,158.1 L1087.25,158.1 L1087.50,158.2 L1087.75,158.2 L1088.00,157.6 L1088.25,157.0 L1088.50,157.0 L1088.75,157.0 L1089.00,157.0 L1089.25,157.0 L1089.50,157.0 L1089.75,157.2 L1090.00,157.1 L1090.25,157.1 L1090.50,157.5 L1090.75,157.5 L1091.00,141.2 L1091.25,141.2 L1091.50,142.4 L1091.75,142.4 L1092.00,142.1 L1092.25,142.1 L1092.50,142.5 L1092.75,141.2 L1093.00,141.2 L1093.25,161.0 L1093.50,165.9 L1093.75,169.0 L1094.00,173.4 L1094.25,176.5 L1094.50,177.4 L1094.75,179.9 L1095.00,182.3 L1095.25,184.8 L1095.50,191.2 L1095.75,195.4 L1096.00,195.9 L1096.25,200.0 L1096.50,204.6 L1096.75,208.3 L1097.00,210.2 L1097.25,212.7 L1097.50,215.3 L1097.75,217.8 L1098.00,219.6 L1098.25,221.3 L1098.50,222.5 L1098.75,226.3 L1099.00,229.8 L1099.25,233.5 L1099.50,229.0 L1099.75,224.4 L1100.00,220.1 L1100.25,215.7 L1100.50,211.0 L1100.75,206.6 L1101.00,206.1 L1101.25,204.2 L1101.50,198.5 L1101.75,196.7 L1102.00,195.7 L1102.25,195.1 L1102.50,194.7 L1102.75,194.1 L1103.00,192.6 L1103.25,190.1 L1103.50,187.1 L1103.75,184.6 L1104.00,184.4 L1104.25,183.1 L1104.50,181.3 L1104.75,177.1 L1105.00,172.5 L1105.25,168.8 L1105.50,162.1 L1105.75,156.3 L1106.00,152.6 L1106.25,148.9 L1106.50,146.0 L1106.75,143.1 L1107.00,140.9 L1107.25,135.3 L1107.50,128.8 L1107.75,128.8 L1108.00,128.8 L1108.25,128.8 L1108.50,128.8 L1108.75,128.8 L1109.00,135.3 L1109.25,139.1 L1109.50,140.6 L1109.75,139.0 L1110.00,137.2 L1110.25,135.6 L1110.50,133.8 L1110.75,133.8 L1111.00,133.8 L1111.25,133.8 L1111.50,133.8 L1111.75,133.8 L1112.00,138.9 L1112.25,137.0 L1112.50,134.6 L1112.75,132.8 L1113.00,131.2 L1113.25,129.3 L1113.50,131.4 L1113.75,129.5 L1114.00,122.7 L1114.25,121.5 L1114.50,121.2 L1114.75,120.0 L1115.00,118.4 L1115.25,117.7 L1115.50,121.0 L1115.75,120.4 L1116.00,115.3 L1116.25,111.2 L1116.50,110.8 L1116.75,106.6 L1117.00,97.9 L1117.25,92.5 L1117.50,86.2 L1117.75,95.2 L1118.00,100.7 L1118.25,106.1 L1118.50,107.2 L1118.75,110.5 L1119.00,113.2 L1119.25,112.6 L1119.50,112.7 L1119.75,112.1 L1120.00,111.2 L1120.25,109.4 L1120.50,106.8 L1120.75,104.9 L1121.00,103.6 L1121.25,101.4 L1121.50,111.0 L1121.75,108.8 L1122.00,93.8 L1122.25,100.6 L1122.50,105.9 L1122.75,111.3 L1123.00,113.4 L1123.25,115.9 L1123.50,117.9 L1123.75,120.4 L1124.00,132.8 L1124.25,134.8 L1124.50,134.4 L1124.75,136.4 L1125.00,131.0 L1125.25,132.5 L1125.50,137.1 L1125.75,138.6 L1126.00,136.3 L1126.25,137.8 L1126.50,134.9 L1126.75,131.7 L1127.00,129.6 L1127.25,126.5 L1127.50,128.0 L1127.75,125.1 L1128.00,118.1 L1128.25,113.8 L1128.50,117.0 L1128.75,119.2 L1129.00,121.5 L1129.25,123.7 L1129.50,124.1 L1129.75,125.3 L1130.00,126.7 L1130.25,127.9 L1130.50,129.9 L1130.75,131.1 L1131.00,130.8 L1131.25,130.4 L1131.50,129.0 L1131.75,128.7 L1132.00,129.5 L1132.25,129.1 L1132.50,130.8 L1132.75,130.4 L1133.00,126.9 L1133.25,126.5 L1133.50,126.3 L1133.75,126.0 L1134.00,125.4 L1134.25,125.0 L1134.50,126.4 L1134.75,127.2 L1135.00,128.3 L1135.25,129.2 L1135.50,133.3 L1135.75,134.2 L1136.00,132.8 L1136.25,135.3 L1136.50,137.7 L1136.75,140.2 L1137.00,142.5 L1137.25,145.0 L1137.50,149.9 L1137.75,150.7 L1138.00,150.1 L1138.25,150.9 L1138.50,151.4 L1138.75,152.1 L1139.00,152.6 L1139.25,152.9 L1139.50,152.9 L1139.75,153.1 L1140.00,153.3 L1140.25,154.0 L1140.50,154.8 L1140.75,155.5 L1141.00,159.5 L1141.25,160.2 L1141.50,157.2 L1141.75,163.5 L1142.00,173.1 L1142.25,175.6 L1142.50,177.3 L1142.75,171.0 L1143.00,165.6 L1143.25,163.1 L1143.50,172.6 L1143.75,157.0 L1144.00,157.0 L1144.25,161.6 L1144.50,167.5 L1144.75,168.8 L1145.00,174.2 L1145.25,175.5 L1145.50,173.2 L1145.75,172.0 L1146.00,170.6 L1146.25,169.4 L1146.50,170.6 L1146.75,169.4 L1147.00,164.5 L1147.25,167.2 L1147.50,169.7 L1147.75,171.5 L1148.00,184.8 L1148.25,184.8 L1148.50,174.5 L1148.75,174.5 L1149.00,173.0 L1149.25,173.0 L1149.50,172.1 L1149.75,170.2 L1150.00,169.0 L1150.25,167.1 L1150.50,165.6 L1150.75,163.1 L1151.00,157.5 L1151.25,154.2 L1151.50,150.7 L1151.75,149.4 L1152.00,149.0 L1152.25,147.7 L1152.50,147.8 L1152.75,146.6 L1153.00,143.2 L1153.25,143.0 L1153.50,142.3 L1153.75,142.0 L1154.00,141.7 L1154.25,141.5 L1154.50,141.2 L1154.75,147.2 L1155.00,146.0 L1155.25,146.6 L1155.50,145.0 L1155.75,145.6 L1156.00,145.3 L1156.25,146.2 L1156.50,147.8 L1156.75,148.7 L1157.00,148.7 L1157.25,149.5 L1157.50,150.1 L1157.75,149.7 L1158.00,150.3 L1158.25,149.9 L1158.50,149.2 L1158.75,148.8 L1159.00,148.0 L1159.25,146.1 L1159.50,145.1 L1159.75,143.3 L1160.00,140.7 L1160.25,139.3 L1160.50,143.4 L1160.75,142.0 L1161.00,135.9 L1161.25,133.0 L1161.50,136.4 L1161.75,138.8 L1162.00,140.8 L1162.25,142.3 L1162.50,143.4 L1162.75,145.0 L1163.00,151.4 L1163.25,151.7 L1163.50,147.8 L1163.75,148.1 L1164.00,148.4 L1164.25,148.6 L1164.50,148.5 L1164.75,148.7 L1165.00,152.5 L1165.25,152.7 L1165.50,149.5 L1165.75,149.7 L1166.00,150.4 L1166.25,150.6 L1166.50,150.7 L1166.75,150.9 L1167.00,150.3 L1167.25,153.6 L1167.50,158.1 L1167.75,185.4 L1168.00,187.3 L1168.25,189.3 L1168.50,191.5 L1168.75,193.5 L1169.00,199.3 L1169.25,200.8 L1169.50,197.3 L1169.75,198.8 L1170.00,207.9 L1170.25,209.4 L1170.50,203.7 L1170.75,205.2 L1171.00,216.0 L1171.25,217.5 L1171.50,210.0 L1171.75,213.0 L1172.00,216.6 L1172.25,219.6 L1172.50,227.9 L1172.75,230.4 L1173.00,227.2 L1173.25,229.7 L1173.50,232.7 L1173.75,235.2 L1174.00,241.5 L1174.25,247.3 L1174.50,253.3 L1174.75,324.1 L1175.00,324.0 L1175.25,324.0 L1175.50,323.9 L1175.75,323.9 L1176.00,322.8 L1176.25,322.8 L1176.50,322.8 L1176.75,322.8 L1177.00,322.8 L1177.25,322.8 L1177.50,322.8 L1177.75,323.6 L1178.00,328.9 L1178.25,328.9 L1178.50,323.0 L1178.75,331.7 L1179.00,233.4 L1179.25,220.9 L1179.50,210.1 L1179.75,202.6 L1180.00,192.4 L1180.25,182.4 L1180.50,173.3 L1180.75,164.5 L1181.00,155.4 L1181.25,148.8 L1181.50,148.8 L1181.75,148.8 L1182.00,148.8 L1182.25,148.8 L1182.50,148.8 L1182.75,154.4 L1183.00,158.2 L1183.25,158.2 L1183.50,158.0 L1183.75,158.0 L1184.00,157.7 L1184.25,157.7 L1184.50,158.1 L1184.75,154.3 L1185.00,148.8 L1185.25,148.8 L1185.50,148.8 L1185.75,148.8 L1186.00,148.8 L1186.25,148.8 L1186.50,148.8 L1186.75,154.6 L1187.00,198.4 L1187.25,203.4 L1187.50,208.8 L1187.75,214.6 L1188.00,219.8 L1188.25,223.9 L1188.50,228.1 L1188.75,232.2 L1189.00,320.0 L1189.25,320.0 L1189.50,319.4 L1189.75,319.4 L1190.00,319.7 L1190.25,274.0 L1190.50,274.0 L1190.75,274.0 L1191.00,274.0 L1191.25,274.0 L1191.50,274.0 L1191.75,274.0 L1192.00,321.7 L1192.25,321.8 L1192.50,320.7 L1192.75,320.8 L1193.00,326.9 L1193.25,320.8 L1193.50,320.9 L1193.75,321.9 L1194.00,321.8 L1194.25,321.9 L1194.50,322.0 L1194.75,321.4 L1195.00,321.5 L1195.25,323.1 L1195.50,323.5 L1195.75,323.8 L1196.00,323.4 L1196.25,323.7 L1196.50,323.9 L1196.75,324.2 L1197.00,267.3 L1197.25,257.3 L1197.50,232.3 L1197.75,227.7 L1198.00,227.8 L1198.25,218.2 L1198.50,220.6 L1198.75,222.8 L1199.00,231.2 L1199.25,233.4 L1199.50,231.3 L1199.75,232.9 L1200.00,232.3 L1200.25,244.8 L1200.50,257.4 L1200.75,267.4 L1201.00,328.8 L1201.25,329.0 L1201.50,325.5 L1201.75,325.7 L1202.00,327.0 L1202.25,327.2 L1202.50,331.7 L1202.75,331.9 L1203.00,326.5 L1203.25,326.7 L1203.50,327.4 L1203.75,327.6 L1204.00,327.9 L1204.25,332.6 L1204.50,336.0 L1204.75,340.7 L1205.00,350.7 L1205.25,344.4 L1205.50,334.1 L1205.75,327.8 L1206.00,273.4 L1206.25,268.4 L1206.50,263.4 L1206.75,262.2 L1207.00,260.9 L1207.25,259.6 L1207.50,260.4 L1207.75,257.9 L1208.00,256.3 L1208.25,253.8 L1208.50,247.4 L1208.75,244.9 L1209.00,247.1 L1209.25,244.0 L1209.50,235.7 L1209.75,232.6 L1210.00,232.8 L1210.25,231.1 L1210.50,227.8 L1210.75,226.0 L1211.00,224.2 L1211.25,222.4 L1211.50,220.8 L1211.75,219.5 L1212.00,217.1 L1212.25,215.9 L1212.50,218.4 L1212.75,214.0 L1213.00,207.9 L1213.25,203.6 L1213.50,204.6 L1213.75,202.1 L1214.00,192.5 L1214.25,190.0 L1214.50,187.0 L1214.75,192.8 L1215.00,200.7 L1215.25,205.7 L1215.50,212.2 L1215.75,216.5 L1216.00,221.6 L1216.25,226.0 L1216.50,228.3 L1216.75,230.8 L1217.00,228.4 L1217.25,230.9 L1217.50,233.1 L1217.75,234.6 L1218.00,236.9 L1218.25,238.4 L1218.50,244.1 L1218.75,245.6 L1219.00,237.6 L1219.25,235.1 L1219.50,232.3 L1219.75,229.8 L1220.00,227.2 L1220.25,225.2 L1220.50,227.4 L1220.75,225.4 L1221.00,220.4 L1221.25,218.4 L1221.50,210.7 L1221.75,203.2 L1222.00,195.1 L1222.25,188.9 L1222.50,157.6 L1222.75,156.0 L1223.00,156.0 L1223.25,155.8 L1223.50,153.4 L1223.75,153.1 L1224.00,152.9 L1224.25,152.7 L1224.50,154.0 L1224.75,153.6 L1225.00,152.1 L1225.25,151.7 L1225.50,154.6 L1225.75,154.3 L1226.00,151.4 L1226.25,151.1 L1226.50,149.7 L1226.75,149.2 L1227.00,150.2 L1227.25,149.7 L1227.50,148.0 L1227.75,146.1 L1228.00,149.3 L1228.25,147.5 L1228.50,140.7 L1228.75,140.1 L1229.00,139.7 L1229.25,139.1 L1229.50,137.5 L1229.75,138.0 L1230.00,139.3 L1230.25,139.8 L1230.50,139.6 L1230.75,140.1 L1231.00,145.4 L1231.25,145.6 L1231.50,141.6 L1231.75,141.8 L1232.00,144.0 L1232.25,142.3 L1232.50,138.2 L1232.75,136.5 L1233.00,136.4 L1233.25,134.6 L1233.50,130.1 L1233.75,127.0 L1234.00,123.8 L1234.25,120.7 L1234.50,124.7 L1234.75,123.0 L1235.00,115.9 L1235.25,112.7 L1235.50,114.4 L1235.75,111.2 L1236.00,103.9 L1236.25,100.2 L1236.50,95.3 L1236.75,91.5 L1237.00,88.4 L1237.25,88.1 L1237.50,92.2 L1237.75,91.9 L1238.00,87.3 L1238.25,85.1 L1238.50,83.5 L1238.75,81.3 L1239.00,81.8 L1239.25,80.2 L1239.50,75.2 L1239.75,73.6 L1240.00,71.2 L1240.25,75.7 L1240.50,76.2 L1240.75,78.3 L1241.00,89.7 L1241.25,92.6 L1241.50,87.4 L1241.75,94.0 L1242.00,107.7 L1242.25,114.3 L1242.50,113.5 L1242.75,113.9 L1243.00,117.8 L1243.25,118.2 L1243.50,117.1 L1243.75,117.6 L1244.00,117.2 L1244.25,116.8 L1244.50,115.3 L1244.75,114.9 L1245.00,113.5 L1245.25,113.1 L1245.50,113.8 L1245.75,113.2 L1246.00,114.0 L1246.25,113.3 L1246.50,110.0 L1246.75,112.6 L1247.00,117.2 L1247.25,118.5 L1247.50,115.8 L1247.75,118.3 L1248.00,120.0 L1248.25,122.5 L1248.50,129.5 L1248.75,132.0 L1249.00,128.0 L1249.25,128.0 L1249.50,128.9 L1249.75,128.9 L1250.00,127.5 L1250.25,127.5 L1250.50,128.1 L1250.75,128.1 L1251.00,128.3 L1251.25,128.3 L1251.50,132.0 L1251.75,132.0 L1252.00,127.9 L1252.25,127.5 L1252.50,127.5 L1252.75,132.7 L1253.00,131.4 L1253.25,132.9 L1253.50,133.8 L1253.75,135.3 L1254.00,140.5 L1254.25,141.5 L1254.50,143.9 L1254.75,144.9 L1255.00,140.0 L1255.25,140.8 L1255.50,142.3 L1255.75,143.1 L1256.00,143.5 L1256.25,144.2 L1256.50,149.3 L1256.75,150.0 L1257.00,146.2 L1257.25,147.0 L1257.50,150.1 L1257.75,149.8 L1258.00,147.5 L1258.25,147.2 L1258.50,147.3 L1258.75,147.0 L1259.00,147.2 L1259.25,147.0 L1259.50,145.5 L1259.75,145.2 L1260.00,145.0 L1260.25,145.5 L1260.50,146.1 L1260.75,146.6 L1261.00,147.9 L1261.25,148.4 L1261.50,148.1 L1261.75,148.6 L1262.00,154.5 L1262.25,155.0 L1262.50,152.2 L1262.75,151.7 L1263.00,150.1 L1263.25,149.6 L1263.50,155.4 L1263.75,154.9 L1264.00,153.5 L1264.25,153.0 L1264.50,147.3 L1264.75,146.8 L1265.00,146.5 L1265.25,145.6 L1265.50,145.5 L1265.75,144.6 L1266.00,143.2 L1266.25,142.2 L1266.50,143.4 L1266.75,142.5 L1267.00,137.5 L1267.25,137.5 L1267.50,137.5 L1267.75,137.5 L1268.00,137.5 L1268.25,149.9 L1268.50,154.1 L1268.50,435.0Z" fill="#6eb5f1"/>
<path d="M1146,387.6 H1162 Q1163.5,387.6 1163.5,389.1 V391.6 H1166 Q1167.6,391.6 1167.6,393.2 V396.2 Q1167.6,397.8 1166,397.8 H1165 L1163.4,406.5 Q1163.2,407.5 1163.6,408.5 L1164.2,411.5 Q1164.4,413 1163,413.2 L1161.8,413.4 V417 Q1161.8,419.8 1158.8,419.8 Q1155.8,419.8 1155.8,417 V415.8 H1152.2 V417 Q1152.2,419.8 1149.2,419.8 Q1146.2,419.8 1146.2,417 V413.4 L1145,413.2 Q1143.6,413 1143.8,411.5 L1144.4,408.5 Q1144.8,407.5 1144.6,406.5 L1143,397.8 H1142 Q1140.4,397.8 1140.4,396.2 V393.2 Q1140.4,391.6 1142,391.6 H1144.5 V389.1 Q1144.5,387.6 1146,387.6 Z" fill="#97aec9"/>
<text x="1175.2" y="410.5" style="font-size:21px;font-weight:bold;fill:#82acd8;stroke:none;letter-spacing:-0.4px" clip-path="url(#cp)">coinglass</text>
<path d="M86.1,411.9 L86.7,413.5 L87.3,417.1 L87.9,417.4 L88.5,420.9 L89.1,419.5 L89.7,417.1 L90.3,416.9 L90.9,414.0 L91.5,413.8 L92.1,411.3 L92.7,410.0 L93.3,409.6 L93.9,409.4 L94.5,406.5 L95.1,407.6 L95.7,409.5 L96.3,411.2 L96.9,410.9 L97.5,410.7 L98.1,411.7 L98.7,408.3 L99.3,410.0 L99.9,407.6 L100.5,406.5 L101.1,405.9 L101.7,408.1 L102.3,411.2 L102.9,410.9 L103.5,413.8 L104.1,414.5 L104.7,414.1 L105.3,415.0 L105.9,413.9 L106.5,414.3 L107.1,415.2 L107.7,417.1 L108.3,416.9 L108.9,417.2 L109.5,418.6 L110.1,418.8 L110.7,419.0 L111.3,420.9 L111.9,420.8 L112.5,419.6 L113.1,420.8 L113.7,420.9 L114.3,422.1 L114.9,421.9 L115.5,420.8 L116.1,423.0 L116.7,420.6 L117.3,421.7 L117.9,423.0 L118.5,421.4 L119.1,421.2 L119.7,418.7 L120.3,419.4 L120.9,418.5 L121.5,416.9 L122.1,416.9 L122.7,414.3 L123.3,414.6 L123.9,413.8 L124.5,413.6 L125.1,413.0 L125.7,414.0 L126.3,414.1 L126.9,412.5 L127.5,413.1 L128.1,411.7 L128.7,414.0 L129.3,414.2 L129.9,415.7 L130.5,415.6 L131.1,414.3 L131.7,415.0 L132.3,416.3 L132.9,414.8 L133.5,416.5 L134.1,416.0 L134.7,416.2 L135.3,416.4 L135.9,418.8 L136.5,417.2 L137.1,417.8 L137.7,418.6 L138.3,420.3 L138.9,418.2 L139.5,419.6 L140.1,420.2 L140.7,421.3 L141.3,421.3 L141.9,421.5 L142.5,419.9 L143.1,420.5 L143.7,420.5 L144.3,422.2 L144.9,422.7 L145.5,420.6 L146.1,421.1 L146.7,421.7 L147.3,422.1 L147.9,423.2 L148.5,423.9 L149.1,423.1 L149.7,422.5 L150.3,423.9 L150.9,423.9 L151.5,424.6 L152.1,425.9 L152.7,425.3 L153.3,424.9 L153.9,425.1 L154.5,425.2 L155.1,423.1 L155.7,425.5 L156.3,425.0 L156.9,425.2 L157.5,424.8 L158.1,423.4 L158.7,423.3 L159.3,422.2 L159.9,423.6 L160.5,421.7 L161.1,421.5 L161.7,421.7 L162.3,421.2 L162.9,421.0 L163.5,419.3 L164.1,418.3 L164.7,418.0 L165.3,417.0 L165.9,417.0 L166.5,416.6 L167.1,419.7 L167.7,419.5 L168.3,418.7 L168.9,419.7 L169.5,420.5 L170.1,421.1 L170.7,420.8 L171.3,423.4 L171.9,424.3 L172.5,423.2 L173.1,423.7 L173.7,422.9 L174.3,423.4 L174.9,424.3 L175.5,423.8 L176.1,425.2 L176.7,422.9 L177.3,422.1 L177.9,424.6 L178.5,423.1 L179.1,421.6 L179.7,422.5 L180.3,420.8 L180.9,422.2 L181.5,423.4 L182.1,422.9 L182.7,422.2 L183.3,420.8 L183.9,420.9 L184.5,420.2 L185.1,422.2 L185.7,421.8 L186.3,422.8 L186.9,421.8 L187.5,421.8 L188.1,423.8 L188.7,424.6 L189.3,424.6 L189.9,424.6 L190.5,424.6 L191.1,424.4 L191.7,422.8 L192.3,423.7 L192.9,423.2 L193.5,422.2 L194.1,422.2 L194.7,423.0 L195.3,422.9 L195.9,424.2 L196.5,425.0 L197.1,423.5 L197.7,425.0 L198.3,425.2 L198.9,425.1 L199.5,423.4 L200.1,423.0 L200.7,423.1 L201.3,423.0 L201.9,423.1 L202.5,424.4 L203.1,425.3 L203.7,425.1 L204.3,424.1 L204.9,424.6 L205.5,425.0 L206.1,422.8 L206.7,424.5 L207.3,425.2 L207.9,424.8 L208.5,424.6 L209.1,423.8 L209.7,422.8 L210.3,424.6 L210.9,423.2 L211.5,424.6 L212.1,425.1 L212.7,423.5 L213.3,423.6 L213.9,425.4 L214.5,424.8 L215.1,423.3 L215.7,423.3 L216.3,423.5 L216.9,425.8 L217.5,425.7 L218.1,423.8 L218.7,426.5 L219.3,427.8 L219.9,427.8 L220.5,427.7 L221.1,429.1 L221.7,428.4 L222.3,428.7 L222.9,432.2 L223.5,431.6 L224.1,431.4 L224.7,432.8 L225.3,431.4 L225.9,432.9 L226.5,432.9 L227.1,431.2 L227.7,431.5 L228.3,431.8 L228.9,431.8 L229.5,432.9 L230.1,432.1 L230.7,432.7 L231.3,432.0 L231.9,434.5 L232.5,433.0 L233.1,433.5 L233.7,433.8 L234.3,434.6 L234.9,432.9 L235.5,434.3 L236.1,432.8 L236.7,432.8 L237.3,432.6 L237.9,430.9 L238.5,432.0 L239.1,431.0 L239.7,430.4 L240.3,432.8 L240.9,431.0 L241.5,431.9 L242.1,432.7 L242.7,432.3 L243.3,431.6 L243.9,432.2 L244.5,432.4 L245.1,433.1 L245.7,431.1 L246.3,432.5 L246.9,431.6 L247.5,431.8 L248.1,433.3 L248.7,432.6 L249.3,432.8 L249.9,433.5 L250.5,434.0 L251.1,432.6 L251.7,433.2 L252.3,432.9 L252.9,433.0 L253.5,433.6 L254.1,433.0 L254.7,433.2 L255.3,433.0 L255.9,434.4 L256.5,433.7 L257.1,434.2 L257.7,434.3 L258.3,432.3 L258.9,433.2 L259.5,434.3 L260.1,434.0 L260.7,431.8 L261.3,431.8 L261.9,432.7 L262.5,431.6 L263.1,432.0 L263.7,431.5 L264.3,433.2 L264.9,433.5 L265.5,433.8 L266.1,431.6 L266.7,433.2 L267.3,433.0 L267.9,431.4 L268.5,433.6 L269.1,433.8 L269.7,431.5 L270.3,433.7 L270.9,432.1 L271.5,432.3 L272.1,433.9 L272.7,433.4 L273.3,431.4 L273.9,432.2 L274.5,432.4 L275.1,431.9 L275.7,431.5 L276.3,431.8 L276.9,433.0 L277.5,430.9 L278.1,432.4 L278.7,432.0 L279.3,430.7 L279.9,431.6 L280.5,432.4 L281.1,432.0 L281.7,430.6 L282.3,433.0 L282.9,431.9 L283.5,431.9 L284.1,428.8 L284.7,428.8 L285.3,427.6 L285.9,429.4 L286.5,427.7 L287.1,427.0 L287.7,427.7 L288.3,429.0 L288.9,428.5 L289.5,426.7 L290.1,426.3 L290.7,428.5 L291.3,427.4 L291.9,427.7 L292.5,425.9 L293.1,425.7 L293.7,427.5 L294.3,426.7 L294.9,425.5 L295.5,428.0 L296.1,427.0 L296.7,427.5 L297.3,425.2 L297.9,427.4 L298.5,425.0 L299.1,427.3 L299.7,425.5 L300.3,424.1 L300.9,423.8 L301.5,423.9 L302.1,420.9 L302.7,419.5 L303.3,419.9 L303.9,418.9 L304.5,418.3 L305.1,418.2 L305.7,417.7 L306.3,418.0 L306.9,418.1 L307.5,417.9 L308.1,419.0 L308.7,417.4 L309.3,417.8 L309.9,416.7 L310.5,417.0 L311.1,416.1 L311.7,417.0 L312.3,416.5 L312.9,418.9 L313.5,418.5 L314.1,417.7 L314.7,418.3 L315.3,419.3 L315.9,416.4 L316.5,418.2 L317.1,416.6 L317.7,416.4 L318.3,416.7 L318.9,414.2 L319.5,413.3 L320.1,412.7 L320.7,412.3 L321.3,409.0 L321.9,409.1 L322.5,407.4 L323.1,405.8 L323.7,403.7 L324.3,403.8 L324.9,403.7 L325.5,404.7 L326.1,405.3 L326.7,408.0 L327.3,406.3 L327.9,405.5 L328.5,404.8 L329.1,406.6 L329.7,406.1 L330.3,406.0 L330.9,405.6 L331.5,406.1 L332.1,407.0 L332.7,408.2 L333.3,407.8 L333.9,409.1 L334.5,408.9 L335.1,411.4 L335.7,411.9 L336.3,411.0 L336.9,410.3 L337.5,412.1 L338.1,409.7 L338.7,409.5 L339.3,408.0 L339.9,408.7 L340.5,408.6 L341.1,408.3 L341.7,407.0 L342.3,407.4 L342.9,405.5 L343.5,405.9 L344.1,405.0 L344.7,406.5 L345.3,406.1 L345.9,406.6 L346.5,408.1 L347.1,408.4 L347.7,410.1 L348.3,410.4 L348.9,411.4 L349.5,411.5 L350.1,412.1 L350.7,413.0 L351.3,411.9 L351.9,411.7 L352.5,413.4 L353.1,410.6 L353.7,412.0 L354.3,411.5 L354.9,409.4 L355.5,411.4 L356.1,411.3 L356.7,410.4 L357.3,410.8 L357.9,411.2 L358.5,409.3 L359.1,410.7 L359.7,410.7 L360.3,411.9 L360.9,411.9 L361.5,412.2 L362.1,412.2 L362.7,413.9 L363.3,414.0 L363.9,414.8 L364.5,414.1 L365.1,414.3 L365.7,415.3 L366.3,416.8 L366.9,416.3 L367.5,418.7 L368.1,418.0 L368.7,418.4 L369.3,418.5 L369.9,418.8 L370.5,418.4 L371.1,417.1 L371.7,419.5 L372.3,419.2 L372.9,418.3 L373.5,418.3 L374.1,418.5 L374.7,416.6 L375.3,418.4 L375.9,416.8 L376.5,416.1 L377.1,416.2 L377.7,417.2 L378.3,415.2 L378.9,416.3 L379.5,416.6 L380.1,414.7 L380.7,413.9 L381.3,413.7 L381.9,414.3 L382.5,414.7 L383.1,414.4 L383.7,414.7 L384.3,413.1 L384.9,413.5 L385.5,413.9 L386.1,415.6 L386.7,414.5 L387.3,415.8 L387.9,414.5 L388.5,415.1 L389.1,416.2 L389.7,417.9 L390.3,418.4 L390.9,418.8 L391.5,418.1 L392.1,418.9 L392.7,418.9 L393.3,419.0 L393.9,418.1 L394.5,420.6 L395.1,418.7 L395.7,421.2 L396.3,421.2 L396.9,418.6 L397.5,420.1 L398.1,421.3 L398.7,421.9 L399.3,420.5 L399.9,420.1 L400.5,420.1 L401.1,422.4 L401.7,420.3 L402.3,421.5 L402.9,420.3 L403.5,421.5 L404.1,422.9 L404.7,420.5 L405.3,422.7 L405.9,421.9 L406.5,423.0 L407.1,422.2 L407.7,420.6 L408.3,422.3 L408.9,420.9 L409.5,419.2 L410.1,418.9 L410.7,420.2 L411.3,419.8 L411.9,419.1 L412.5,418.3 L413.1,418.6 L413.7,418.2 L414.3,419.5 L414.9,416.7 L415.5,418.6 L416.1,418.6 L416.7,416.1 L417.3,418.2 L417.9,417.3 L418.5,417.6 L419.1,415.4 L419.7,415.4 L420.3,415.1 L420.9,416.7 L421.5,415.2 L422.1,414.3 L422.7,414.4 L423.3,413.8 L423.9,412.9 L424.5,412.9 L425.1,415.0 L425.7,413.2 L426.3,415.0 L426.9,412.7 L427.5,412.4 L428.1,412.8 L428.7,411.6 L429.3,411.8 L429.9,413.3 L430.5,412.8 L431.1,412.2 L431.7,411.7 L432.3,412.7 L432.9,412.9 L433.5,411.9 L434.1,412.5 L434.7,410.7 L435.3,412.9 L435.9,412.2 L436.5,413.3 L437.1,413.6 L437.7,413.1 L438.3,413.0 L438.9,416.3 L439.5,414.5 L440.1,416.1 L440.7,416.0 L441.3,416.2 L441.9,417.8 L442.5,418.8 L443.1,418.5 L443.7,421.8 L444.3,422.9 L444.9,425.7 L445.5,425.8 L446.1,425.1 L446.7,425.1 L447.3,425.3 L447.9,427.4 L448.5,426.1 L449.1,425.1 L449.7,426.8 L450.3,426.6 L450.9,424.6 L451.5,423.3 L452.1,423.0 L452.7,422.4 L453.3,422.9 L453.9,422.0 L454.5,422.2 L455.1,422.1 L455.7,422.8 L456.3,423.6 L456.9,423.0 L457.5,421.8 L458.1,421.7 L458.7,421.9 L459.3,421.3 L459.9,421.0 L460.5,420.0 L461.1,420.5 L461.7,422.4 L462.3,419.5 L462.9,420.4 L463.5,420.4 L464.1,420.8 L464.7,418.6 L465.3,418.5 L465.9,418.1 L466.5,418.1 L467.1,417.4 L467.7,418.1 L468.3,417.0 L468.9,416.3 L469.5,412.9 L470.1,412.2 L470.7,414.1 L471.3,414.4 L471.9,413.0 L472.5,413.1 L473.1,411.1 L473.7,412.1 L474.3,413.8 L474.9,413.7 L475.5,413.9 L476.1,414.4 L476.7,412.4 L477.3,412.1 L477.9,412.4 L478.5,413.7 L479.1,414.1 L479.7,414.7 L480.3,413.8 L480.9,413.4 L481.5,413.5 L482.1,412.4 L482.7,412.4 L483.3,410.7 L483.9,412.8 L484.5,411.2 L485.1,413.3 L485.7,412.6 L486.3,411.6 L486.9,411.1 L487.5,411.6 L488.1,412.8 L488.7,413.0 L489.3,411.4 L489.9,411.4 L490.5,412.9 L491.1,413.3 L491.7,412.8 L492.3,412.5 L492.9,413.8 L493.5,412.2 L494.1,413.1 L494.7,413.7 L495.3,415.3 L495.9,414.4 L496.5,415.2 L497.1,414.1 L497.7,413.5 L498.3,413.6 L498.9,415.8 L499.5,414.9 L500.1,413.6 L500.7,412.7 L501.3,414.0 L501.9,414.5 L502.5,413.6 L503.1,413.0 L503.7,414.2 L504.3,414.7 L504.9,412.4 L505.5,411.7 L506.1,412.4 L506.7,412.4 L507.3,413.0 L507.9,410.6 L508.5,411.2 L509.1,409.8 L509.7,407.9 L510.3,406.4 L510.9,408.3 L511.5,406.0 L512.1,407.2 L512.7,405.1 L513.3,404.8 L513.9,406.2 L514.5,404.7 L515.1,406.5 L515.7,405.0 L516.3,404.0 L516.9,404.0 L517.5,404.4 L518.1,405.1 L518.7,405.8 L519.3,403.7 L519.9,404.7 L520.5,404.4 L521.1,407.0 L521.7,404.8 L522.3,404.8 L522.9,405.2 L523.5,406.6 L524.1,408.5 L524.7,408.9 L525.3,408.8 L525.9,410.0 L526.5,410.2 L527.1,408.6 L527.7,408.5 L528.3,411.0 L528.9,410.7 L529.5,408.9 L530.1,410.9 L530.7,409.8 L531.3,409.7 L531.9,409.4 L532.5,408.7 L533.1,408.1 L533.7,408.8 L534.3,409.1 L534.9,410.9 L535.5,408.5 L536.1,411.1 L536.7,408.9 L537.3,409.4 L537.9,410.8 L538.5,410.9 L539.1,409.6 L539.7,408.3 L540.3,409.4 L540.9,409.0 L541.5,410.5 L542.1,408.1 L542.7,408.5 L543.3,410.0 L543.9,407.1 L544.5,407.8 L545.1,408.6 L545.7,408.1 L546.3,405.5 L546.9,405.1 L547.5,404.6 L548.1,406.3 L548.7,403.4 L549.3,404.0 L549.9,403.6 L550.5,401.3 L551.1,400.5 L551.7,402.0 L552.3,400.3 L552.9,398.7 L553.5,399.4 L554.1,397.3 L554.7,396.2 L555.3,394.3 L555.9,395.6 L556.5,395.1 L557.1,393.2 L557.7,393.3 L558.3,389.7 L558.9,389.6 L559.5,389.5 L560.1,390.1 L560.7,389.3 L561.3,386.8 L561.9,385.5 L562.5,385.1 L563.1,384.4 L563.7,385.0 L564.3,382.5 L564.9,384.2 L565.5,383.8 L566.1,383.9 L566.7,383.5 L567.3,382.8 L567.9,382.2 L568.5,382.4 L569.1,382.7 L569.7,384.1 L570.3,382.2 L570.9,382.8 L571.5,384.0 L572.1,381.9 L572.7,380.8 L573.3,380.1 L573.9,381.0 L574.5,379.8 L575.1,380.2 L575.7,377.5 L576.3,375.4 L576.9,371.4 L577.5,369.5 L578.1,368.1 L578.7,367.8 L579.3,366.0 L579.9,361.3 L580.5,356.7 L581.1,353.5 L581.7,351.4 L582.3,348.8 L582.9,345.9 L583.5,341.4 L584.1,336.0 L584.7,329.3 L585.3,325.5 L585.9,317.8 L586.5,312.6 L587.1,312.7 L587.7,315.0 L588.3,314.6 L588.9,316.7 L589.5,319.1 L590.1,321.2 L590.7,325.8 L591.3,327.5 L591.9,329.8 L592.5,333.0 L593.1,337.6 L593.7,337.3 L594.3,337.7 L594.9,340.6 L595.5,338.0 L596.1,335.8 L596.7,329.1 L597.3,323.9 L597.9,318.5 L598.5,313.7 L599.1,309.6 L599.7,302.7 L600.3,299.1 L600.9,294.7 L601.5,291.3 L602.1,290.1 L602.7,285.3 L603.3,282.0 L603.9,274.9 L604.5,271.0 L605.1,264.5 L605.7,260.8 L606.3,259.1 L606.9,261.0 L607.5,262.8 L608.1,268.8 L608.7,274.5 L609.3,278.9 L609.9,282.8 L610.5,284.1 L611.1,285.6 L611.7,280.7 L612.3,276.6 L612.9,271.7 L613.5,264.5 L614.1,258.0 L614.7,252.9 L615.3,249.5 L615.9,245.6 L616.5,243.6 L617.1,241.4 L617.7,246.2 L618.3,248.4 L618.9,250.0 L619.5,254.0 L620.1,259.1 L620.7,263.7 L621.3,265.0 L621.9,260.1 L622.5,257.0 L623.1,255.5 L623.7,253.4 L624.3,251.8 L624.9,250.7 L625.5,251.4 L626.1,248.5 L626.7,250.0 L627.3,250.1 L627.9,251.0 L628.5,253.0 L629.1,250.9 L629.7,246.2 L630.3,242.7 L630.9,241.2 L631.5,236.4 L632.1,237.3 L632.7,244.6 L633.3,247.9 L633.9,253.8 L634.5,257.4 L635.1,263.6 L635.7,266.5 L636.3,268.0 L636.9,270.0 L637.5,274.0 L638.1,271.1 L638.7,268.3 L639.3,262.2 L639.9,261.3 L640.5,258.7 L641.1,257.3 L641.7,254.6 L642.3,253.8 L642.9,253.4 L643.5,258.2 L644.1,260.8 L644.7,267.1 L645.3,274.8 L645.9,284.2 L646.5,290.9 L647.1,299.3 L647.7,306.7 L648.3,311.8 L648.9,315.3 L649.5,316.5 L650.1,320.9 L650.7,321.1 L651.3,324.5 L651.9,323.8 L652.5,323.4 L653.1,320.5 L653.7,321.4 L654.3,320.3 L654.9,323.7 L655.5,327.7 L656.1,330.4 L656.7,330.0 L657.3,327.8 L657.9,326.1 L658.5,324.2 L659.1,319.7 L659.7,314.6 L660.3,310.8 L660.9,316.5 L661.5,321.3 L662.1,323.0 L662.7,329.1 L663.3,334.2 L663.9,336.5 L664.5,338.2 L665.1,333.6 L665.7,332.7 L666.3,330.1 L666.9,329.2 L667.5,327.9 L668.1,328.0 L668.7,328.2 L669.3,328.0 L669.9,329.9 L670.5,330.5 L671.1,331.7 L671.7,331.4 L672.3,333.5 L672.9,333.4 L673.5,332.9 L674.1,335.0 L674.7,337.8 L675.3,339.5 L675.9,341.4 L676.5,345.0 L677.1,341.6 L677.7,339.1 L678.3,337.4 L678.9,331.7 L679.5,326.8 L680.1,321.0 L680.7,316.0 L681.3,315.4 L681.9,311.3 L682.5,310.9 L683.1,308.6 L683.7,305.4 L684.3,301.6 L684.9,300.6 L685.5,298.2 L686.1,298.7 L686.7,295.1 L687.3,296.1 L687.9,295.3 L688.5,293.3 L689.1,292.3 L689.7,289.3 L690.3,290.4 L690.9,287.8 L691.5,288.0 L692.1,286.6 L692.7,283.2 L693.3,285.4 L693.9,286.4 L694.5,284.4 L695.1,285.9 L695.7,286.5 L696.3,283.5 L696.9,284.5 L697.5,281.4 L698.1,281.4 L698.7,277.3 L699.3,276.4 L699.9,275.6 L700.5,273.4 L701.1,277.4 L701.7,282.0 L702.3,285.3 L702.9,287.8 L703.5,289.5 L704.1,290.6 L704.7,294.1 L705.3,294.6 L705.9,298.2 L706.5,299.0 L707.1,303.9 L707.7,304.9 L708.3,306.1 L708.9,305.8 L709.5,304.4 L710.1,305.3 L710.7,299.3 L711.3,292.2 L711.9,285.3 L712.5,274.8 L713.1,271.6 L713.7,267.0 L714.3,262.6 L714.9,260.3 L715.5,255.1 L716.1,253.6 L716.7,248.8 L717.3,244.5 L717.9,242.0 L718.5,236.5 L719.1,231.2 L719.7,228.4 L720.3,228.5 L720.9,234.3 L721.5,236.0 L722.1,239.1 L722.7,241.9 L723.3,242.5 L723.9,244.6 L724.5,241.7 L725.1,237.7 L725.7,234.8 L726.3,232.2 L726.9,230.9 L727.5,227.8 L728.1,225.5 L728.7,224.1 L729.3,221.0 L729.9,222.6 L730.5,225.2 L731.1,224.6 L731.7,226.7 L732.3,232.2 L732.9,236.0 L733.5,241.2 L734.1,242.8 L734.7,245.6 L735.3,247.4 L735.9,248.0 L736.5,251.0 L737.1,251.8 L737.7,252.1 L738.3,255.7 L738.9,254.9 L739.5,255.9 L740.1,261.1 L740.7,268.4 L741.3,274.8 L741.9,277.6 L742.5,277.8 L743.1,278.7 L743.7,279.3 L744.3,282.7 L744.9,284.3 L745.5,285.4 L746.1,288.1 L746.7,289.0 L747.3,291.1 L747.9,291.1 L748.5,290.2 L749.1,292.5 L749.7,287.5 L750.3,286.6 L750.9,283.8 L751.5,280.9 L752.1,281.8 L752.7,285.8 L753.3,285.3 L753.9,288.7 L754.5,292.0 L755.1,291.9 L755.7,294.3 L756.3,297.9 L756.9,300.2 L757.5,303.2 L758.1,304.6 L758.7,302.1 L759.3,301.9 L759.9,301.3 L760.5,300.6 L761.1,304.3 L761.7,305.2 L762.3,306.2 L762.9,306.2 L763.5,315.6 L764.1,322.2 L764.7,326.0 L765.3,325.3 L765.9,323.0 L766.5,320.8 L767.1,318.5 L767.7,316.8 L768.3,314.1 L768.9,312.6 L769.5,311.4 L770.1,308.9 L770.7,307.1 L771.3,304.9 L771.9,301.7 L772.5,300.8 L773.1,298.9 L773.7,300.5 L774.3,300.3 L774.9,300.2 L775.5,301.9 L776.1,306.2 L776.7,307.6 L777.3,313.2 L777.9,314.2 L778.5,313.0 L779.1,309.4 L779.7,307.3 L780.3,304.3 L780.9,303.7 L781.5,304.8 L782.1,308.9 L782.7,309.6 L783.3,310.2 L783.9,311.0 L784.5,309.0 L785.1,308.0 L785.7,307.5 L786.3,310.2 L786.9,310.5 L787.5,313.4 L788.1,314.4 L788.7,313.1 L789.3,310.0 L789.9,309.1 L790.5,306.8 L791.1,303.7 L791.7,301.0 L792.3,299.8 L792.9,295.8 L793.5,296.0 L794.1,291.5 L794.7,288.9 L795.3,288.4 L795.9,292.1 L796.5,291.7 L797.1,292.8 L797.7,294.6 L798.3,296.8 L798.9,300.9 L799.5,303.0 L800.1,305.4 L800.7,307.4 L801.3,306.0 L801.9,308.1 L802.5,308.0 L803.1,310.0 L803.7,310.6 L804.3,311.4 L804.9,309.6 L805.5,312.6 L806.1,313.3 L806.7,314.0 L807.3,312.1 L807.9,313.0 L808.5,313.2 L809.1,313.5 L809.7,316.4 L810.3,316.8 L810.9,316.8 L811.5,319.8 L812.1,322.2 L812.7,324.1 L813.3,328.9 L813.9,337.3 L814.5,345.0 L815.1,343.9 L815.7,344.9 L816.3,345.8 L816.9,345.0 L817.5,345.4 L818.1,345.2 L818.7,346.2 L819.3,344.9 L819.9,345.0 L820.5,347.2 L821.1,346.2 L821.7,347.5 L822.3,345.8 L822.9,342.9 L823.5,342.8 L824.1,341.7 L824.7,342.9 L825.3,342.5 L825.9,344.5 L826.5,344.9 L827.1,345.9 L827.7,350.9 L828.3,351.6 L828.9,358.1 L829.5,361.4 L830.1,366.1 L830.7,371.2 L831.3,375.1 L831.9,378.0 L832.5,377.3 L833.1,378.4 L833.7,377.8 L834.3,378.1 L834.9,375.7 L835.5,376.3 L836.1,375.5 L836.7,376.7 L837.3,374.7 L837.9,376.9 L838.5,375.4 L839.1,375.7 L839.7,377.6 L840.3,377.5 L840.9,376.8 L841.5,378.6 L842.1,377.3 L842.7,379.7 L843.3,378.8 L843.9,377.3 L844.5,375.0 L845.1,372.4 L845.7,371.1 L846.3,370.8 L846.9,372.0 L847.5,369.3 L848.1,371.4 L848.7,368.5 L849.3,368.7 L849.9,368.6 L850.5,370.2 L851.1,368.8 L851.7,368.3 L852.3,369.6 L852.9,367.4 L853.5,367.9 L854.1,367.9 L854.7,368.2 L855.3,367.8 L855.9,367.1 L856.5,365.8 L857.1,365.4 L857.7,364.4 L858.3,366.4 L858.9,366.2 L859.5,366.7 L860.1,365.3 L860.7,366.7 L861.3,369.2 L861.9,370.1 L862.5,370.3 L863.1,372.7 L863.7,374.9 L864.3,373.8 L864.9,374.6 L865.5,375.8 L866.1,377.9 L866.7,379.3 L867.3,378.1 L867.9,379.0 L868.5,378.6 L869.1,377.6 L869.7,377.0 L870.3,374.7 L870.9,374.3 L871.5,373.1 L872.1,374.7 L872.7,374.0 L873.3,374.3 L873.9,379.0 L874.5,378.0 L875.1,379.5 L875.7,381.9 L876.3,381.9 L876.9,382.2 L877.5,381.1 L878.1,380.2 L878.7,381.3 L879.3,379.5 L879.9,379.6 L880.5,379.9 L881.1,378.7 L881.7,379.6 L882.3,380.5 L882.9,380.0 L883.5,379.3 L884.1,379.5 L884.7,379.2 L885.3,378.6 L885.9,380.4 L886.5,380.2 L887.1,381.6 L887.7,382.5 L888.3,381.1 L888.9,381.2 L889.5,381.3 L890.1,379.9 L890.7,378.9 L891.3,380.0 L891.9,380.1 L892.5,379.4 L893.1,378.7 L893.7,378.8 L894.3,377.9 L894.9,377.4 L895.5,376.4 L896.1,376.2 L896.7,377.5 L897.3,376.2 L897.9,377.4 L898.5,380.6 L899.1,383.0 L899.7,385.4 L900.3,386.0 L900.9,387.0 L901.5,387.6 L902.1,388.6 L902.7,388.4 L903.3,389.5 L903.9,390.3 L904.5,388.0 L905.1,389.5 L905.7,389.8 L906.3,388.7 L906.9,389.0 L907.5,390.4 L908.1,387.6 L908.7,388.9 L909.3,387.6 L909.9,389.2 L910.5,389.5 L911.1,388.0 L911.7,386.6 L912.3,388.0 L912.9,387.9 L913.5,388.4 L914.1,387.8 L914.7,388.2 L915.3,388.7 L915.9,387.9 L916.5,387.8 L917.1,389.6 L917.7,387.6 L918.3,389.2 L918.9,388.5 L919.5,389.8 L920.1,388.0 L920.7,390.6 L921.3,388.8 L921.9,388.0 L922.5,388.8 L923.1,389.2 L923.7,387.7 L924.3,388.7 L924.9,388.4 L925.5,388.9 L926.1,387.6 L926.7,387.1 L927.3,385.7 L927.9,385.7 L928.5,384.8 L929.1,382.1 L929.7,379.2 L930.3,378.9 L930.9,375.6 L931.5,372.9 L932.1,371.2 L932.7,372.2 L933.3,371.4 L933.9,370.0 L934.5,368.8 L935.1,368.9 L935.7,367.7 L936.3,369.7 L936.9,367.7 L937.5,368.3 L938.1,368.7 L938.7,369.0 L939.3,368.3 L939.9,368.1 L940.5,369.1 L941.1,368.2 L941.7,370.6 L942.3,369.4 L942.9,371.2 L943.5,368.6 L944.1,367.7 L944.7,366.1 L945.3,365.3 L945.9,363.4 L946.5,362.8 L947.1,365.3 L947.7,364.4 L948.3,364.9 L948.9,365.9 L949.5,367.4 L950.1,368.1 L950.7,369.5 L951.3,369.9 L951.9,369.3 L952.5,371.3 L953.1,371.4 L953.7,369.9 L954.3,373.1 L954.9,374.3 L955.5,374.8 L956.1,370.8 L956.7,370.7 L957.3,367.8 L957.9,363.0 L958.5,359.6 L959.1,359.0 L959.7,356.4 L960.3,354.2 L960.9,352.9 L961.5,352.1 L962.1,352.0 L962.7,353.6 L963.3,352.3 L963.9,351.7 L964.5,354.0 L965.1,353.6 L965.7,351.6 L966.3,353.4 L966.9,352.2 L967.5,352.3 L968.1,351.6 L968.7,351.8 L969.3,351.1 L969.9,350.3 L970.5,347.5 L971.1,348.0 L971.7,346.6 L972.3,346.4 L972.9,345.6 L973.5,347.8 L974.1,347.7 L974.7,347.8 L975.3,348.5 L975.9,348.8 L976.5,350.4 L977.1,349.7 L977.7,351.3 L978.3,349.8 L978.9,350.3 L979.5,349.9 L980.1,349.5 L980.7,350.3 L981.3,348.5 L981.9,351.7 L982.5,351.3 L983.1,352.4 L983.7,353.3 L984.3,354.1 L984.9,352.9 L985.5,353.3 L986.1,355.1 L986.7,352.7 L987.3,354.6 L987.9,354.8 L988.5,353.2 L989.1,355.1 L989.7,355.5 L990.3,356.5 L990.9,354.4 L991.5,355.7 L992.1,353.7 L992.7,353.0 L993.3,354.3 L993.9,352.4 L994.5,355.2 L995.1,355.7 L995.7,355.6 L996.3,357.8 L996.9,356.8 L997.5,357.5 L998.1,358.2 L998.7,359.4 L999.3,358.1 L999.9,359.1 L1000.5,359.4 L1001.1,360.1 L1001.7,361.2 L1002.3,356.4 L1002.9,354.1 L1003.5,349.0 L1004.1,347.6 L1004.7,345.4 L1005.3,344.6 L1005.9,345.3 L1006.5,344.1 L1007.1,344.4 L1007.7,342.8 L1008.3,342.5 L1008.9,342.3 L1009.5,343.0 L1010.1,343.0 L1010.7,343.3 L1011.3,341.0 L1011.9,342.9 L1012.5,343.3 L1013.1,342.2 L1013.7,341.2 L1014.3,342.5 L1014.9,342.1 L1015.5,343.2 L1016.1,345.9 L1016.7,345.5 L1017.3,345.9 L1017.9,346.5 L1018.5,347.0 L1019.1,346.4 L1019.7,346.6 L1020.3,346.8 L1020.9,347.2 L1021.5,347.1 L1022.1,347.6 L1022.7,346.4 L1023.3,347.9 L1023.9,347.5 L1024.5,348.5 L1025.1,346.6 L1025.7,346.8 L1026.3,346.4 L1026.9,348.6 L1027.5,349.0 L1028.1,348.4 L1028.7,350.0 L1029.3,353.7 L1029.9,356.0 L1030.5,357.8 L1031.1,357.3 L1031.7,357.6 L1032.3,358.2 L1032.9,358.2 L1033.5,358.8 L1034.1,359.6 L1034.7,360.7 L1035.3,358.3 L1035.9,360.1 L1036.5,358.8 L1037.1,358.8 L1037.7,360.3 L1038.3,359.0 L1038.9,359.4 L1039.5,357.4 L1040.1,355.5 L1040.7,356.1 L1041.3,356.5 L1041.9,357.4 L1042.5,357.3 L1043.1,355.6 L1043.7,355.2 L1044.3,354.1 L1044.9,355.5 L1045.5,354.0 L1046.1,353.6 L1046.7,353.0 L1047.3,352.8 L1047.9,354.6 L1048.5,352.9 L1049.1,355.4 L1049.7,352.8 L1050.3,355.1 L1050.9,352.9 L1051.5,352.6 L1052.1,353.4 L1052.7,349.6 L1053.3,348.7 L1053.9,344.6 L1054.5,341.3 L1055.1,339.6 L1055.7,335.6 L1056.3,333.4 L1056.9,332.1 L1057.5,329.3 L1058.1,330.0 L1058.7,329.3 L1059.3,327.6 L1059.9,328.4 L1060.5,325.8 L1061.1,327.3 L1061.7,326.0 L1062.3,323.3 L1062.9,322.7 L1063.5,324.1 L1064.1,324.2 L1064.7,321.6 L1065.3,321.9 L1065.9,322.8 L1066.5,320.7 L1067.1,322.7 L1067.7,321.8 L1068.3,320.7 L1068.9,321.8 L1069.5,322.6 L1070.1,322.4 L1070.7,322.9 L1071.3,319.8 L1071.9,320.3 L1072.5,317.4 L1073.1,316.6 L1073.7,312.8 L1074.3,308.4 L1074.9,304.6 L1075.5,303.6 L1076.1,302.3 L1076.7,300.1 L1077.3,300.5 L1077.9,301.1 L1078.5,301.9 L1079.1,306.2 L1079.7,305.3 L1080.3,304.7 L1080.9,302.3 L1081.5,302.3 L1082.1,302.8 L1082.7,302.2 L1083.3,301.3 L1083.9,300.2 L1084.5,300.4 L1085.1,301.6 L1085.7,299.8 L1086.3,300.3 L1086.9,299.7 L1087.5,300.1 L1088.1,299.5 L1088.7,297.5 L1089.3,296.2 L1089.9,295.5 L1090.5,294.5 L1091.1,293.5 L1091.7,292.7 L1092.3,294.2 L1092.9,293.4 L1093.5,297.6 L1094.1,299.4 L1094.7,301.7 L1095.3,303.2 L1095.9,304.7 L1096.5,308.9 L1097.1,310.4 L1097.7,310.8 L1098.3,312.4 L1098.9,309.9 L1099.5,307.3 L1100.1,306.8 L1100.7,306.0 L1101.3,303.6 L1101.9,304.6 L1102.5,304.6 L1103.1,301.9 L1103.7,302.4 L1104.3,302.0 L1104.9,300.2 L1105.5,298.2 L1106.1,297.2 L1106.7,297.4 L1107.3,292.3 L1107.9,285.3 L1108.5,278.2 L1109.1,276.9 L1109.7,273.5 L1110.3,269.6 L1110.9,269.7 L1111.5,269.8 L1112.1,268.8 L1112.7,265.1 L1113.3,257.5 L1113.9,250.3 L1114.5,241.6 L1115.1,236.3 L1115.7,231.1 L1116.3,227.6 L1116.9,223.6 L1117.5,221.2 L1118.1,217.7 L1118.7,215.0 L1119.3,211.2 L1119.9,208.2 L1120.5,208.3 L1121.1,203.7 L1121.7,208.7 L1122.3,220.2 L1122.9,230.5 L1123.5,231.5 L1124.1,233.6 L1124.7,233.6 L1125.3,232.8 L1125.9,227.1 L1126.5,222.9 L1127.1,221.6 L1127.7,217.7 L1128.3,215.1 L1128.9,213.8 L1129.5,211.4 L1130.1,211.9 L1130.7,214.1 L1131.3,219.0 L1131.9,221.8 L1132.5,225.2 L1133.1,222.3 L1133.7,216.2 L1134.3,211.7 L1134.9,208.3 L1135.5,211.6 L1136.1,216.9 L1136.7,222.4 L1137.3,229.0 L1137.9,234.2 L1138.5,237.3 L1139.1,239.3 L1139.7,236.2 L1140.3,230.7 L1140.9,229.3 L1141.5,228.5 L1142.1,233.1 L1142.7,241.0 L1143.3,244.3 L1143.9,249.9 L1144.5,251.3 L1145.1,253.0 L1145.7,248.6 L1146.3,244.1 L1146.9,240.7 L1147.5,236.2 L1148.1,239.0 L1148.7,239.6 L1149.3,237.9 L1149.9,238.0 L1150.5,234.7 L1151.1,229.5 L1151.7,225.8 L1152.3,220.4 L1152.9,216.5 L1153.5,211.5 L1154.1,211.0 L1154.7,209.9 L1155.3,213.6 L1155.9,218.4 L1156.5,217.8 L1157.1,216.8 L1157.7,217.5 L1158.3,216.8 L1158.9,214.9 L1159.5,212.8 L1160.1,212.8 L1160.7,212.4 L1161.3,209.6 L1161.9,212.3 L1162.5,214.2 L1163.1,215.9 L1163.7,219.1 L1164.3,219.5 L1164.9,220.9 L1165.5,221.8 L1166.1,224.6 L1166.7,224.3 L1167.3,228.2 L1167.9,228.4 L1168.5,229.7 L1169.1,234.2 L1169.7,233.9 L1170.3,237.8 L1170.9,239.4 L1171.5,241.7 L1172.1,242.5 L1172.7,246.4 L1173.3,248.3 L1173.9,253.6 L1174.5,255.1 L1175.1,256.3 L1175.7,257.6 L1176.3,259.0 L1176.9,256.2 L1177.5,251.0 L1178.1,247.2 L1178.7,241.6 L1179.3,238.1 L1179.9,234.0 L1180.5,232.4 L1181.1,228.3 L1181.7,224.7 L1182.3,225.1 L1182.9,221.5 L1183.5,220.1 L1184.1,218.1 L1184.7,217.7 L1185.3,218.6 L1185.9,217.1 L1186.5,219.9 L1187.1,224.2 L1187.7,227.0 L1188.3,232.6 L1188.9,234.8 L1189.5,241.9 L1190.1,243.6 L1190.7,250.6 L1191.3,254.4 L1191.9,257.6 L1192.5,257.5 L1193.1,254.5 L1193.7,251.9 L1194.3,249.2 L1194.9,247.2 L1195.5,246.2 L1196.1,243.2 L1196.7,240.0 L1197.3,234.5 L1197.9,233.2 L1198.5,233.8 L1199.1,233.3 L1199.7,240.4 L1200.3,244.3 L1200.9,249.5 L1201.5,248.4 L1202.1,252.6 L1202.7,253.0 L1203.3,254.9 L1203.9,257.8 L1204.5,263.7 L1205.1,265.5 L1205.7,260.5 L1206.3,257.4 L1206.9,254.9 L1207.5,248.9 L1208.1,246.9 L1208.7,242.6 L1209.3,239.8 L1209.9,238.5 L1210.5,236.7 L1211.1,234.0 L1211.7,232.4 L1212.3,231.2 L1212.9,231.8 L1213.5,230.6 L1214.1,229.0 L1214.7,227.9 L1215.3,229.5 L1215.9,231.9 L1216.5,234.3 L1217.1,235.7 L1217.7,236.7 L1218.3,238.5 L1218.9,242.8 L1219.5,244.1 L1220.1,240.4 L1220.7,233.3 L1221.3,230.4 L1221.9,226.0 L1222.5,224.5 L1223.1,221.6 L1223.7,217.4 L1224.3,215.3 L1224.9,217.7 L1225.5,216.1 L1226.1,217.0 L1226.7,213.0 L1227.3,209.8 L1227.9,208.7 L1228.5,208.3 L1229.1,210.0 L1229.7,212.8 L1230.3,215.3 L1230.9,214.7 L1231.5,215.4 L1232.1,210.4 L1232.7,201.8 L1233.3,180.6 L1233.9,158.3 L1234.5,154.6 L1235.1,151.5 L1235.7,147.2 L1236.3,145.7 L1236.9,141.7 L1237.5,139.7 L1238.1,134.1 L1238.7,130.6 L1239.3,124.8 L1239.9,117.4 L1240.5,118.8 L1241.1,122.8 L1241.7,130.0 L1242.3,130.5 L1242.9,128.6 L1243.5,120.6 L1244.1,115.7 L1244.7,122.7 L1245.3,123.1 L1245.9,115.2 L1246.5,116.1 L1247.1,121.9 L1247.7,114.1 L1248.3,110.2 L1248.9,116.8 L1249.5,111.2 L1250.1,99.8 L1250.7,94.8 L1251.3,94.1 L1251.9,95.9 L1252.5,107.1 L1253.1,117.8 L1253.7,122.3 L1254.3,113.5 L1254.9,125.1 L1255.5,121.2 L1256.1,121.2 L1256.7,128.5 L1257.3,120.4 L1257.9,133.2 L1258.5,130.3 L1259.1,130.6 L1259.7,133.3 L1260.3,117.5 L1260.9,110.5 L1261.5,104.7 L1262.1,110.5 L1262.7,121.5 L1263.3,131.9 L1263.9,132.6 L1264.5,131.3 L1265.1,125.8 L1265.7,107.4 L1266.3,101.3 L1266.9,101.9 L1267.5,106.1 L1268.1,110.8" fill="none" stroke="#ecb84e" stroke-width="4.3" stroke-linejoin="round" stroke-linecap="round"/>
<g class="leg"><rect x="533.6" y="6.1" width="12.9" height="12.7" fill="#ecb850"/><text x="552.6" y="16.6">BTC Price</text>
<rect x="636.2" y="6.1" width="12.9" height="12.7" fill="#6cb4f0"/><text x="655" y="16.6" style="letter-spacing:0.3px">Crypto Fear &amp; Greed Index</text></g>
<g><text transform="translate(75.6,52.4) scale(0.975,1) rotate(0.03)" text-anchor="end">100.00</text><text transform="translate(75.6,129.7) scale(0.975,1) rotate(0.03)" text-anchor="end">80.00</text><text transform="translate(75.6,207.0) scale(0.975,1) rotate(0.03)" text-anchor="end">60.00</text><text transform="translate(75.6,284.4) scale(0.975,1) rotate(0.03)" text-anchor="end">40.00</text><text transform="translate(75.6,361.8) scale(0.975,1) rotate(0.03)" text-anchor="end">20.00</text><text transform="translate(75.6,439.1) scale(0.975,1) rotate(0.03)" text-anchor="end">0</text></g><g><text transform="translate(1278.3,52.4) scale(0.975,1) rotate(0.03)">$120.00K</text><text transform="translate(1278.3,118.3) scale(0.975,1) rotate(0.03)">$100.00K</text><text transform="translate(1278.3,184.3) scale(0.975,1) rotate(0.03)">$80.00K</text><text transform="translate(1278.3,250.3) scale(0.975,1) rotate(0.03)">$60.00K</text><text transform="translate(1278.3,316.4) scale(0.975,1) rotate(0.03)">$40.00K</text><text transform="translate(1278.3,382.4) scale(0.975,1) rotate(0.03)">$20.00K</text></g><g><text transform="translate(86.3,457.9) scale(0.975,1) rotate(0.03)" text-anchor="middle">1 Feb</text><text transform="translate(149.9,457.9) scale(0.975,1) rotate(0.03)" text-anchor="middle">20 Jun</text><text transform="translate(213.6,457.9) scale(0.975,1) rotate(0.03)" text-anchor="middle">3 Nov</text><text transform="translate(277.2,457.9) scale(0.975,1) rotate(0.03)" text-anchor="middle">19 Mar</text><text transform="translate(340.9,457.9) scale(0.975,1) rotate(0.03)" text-anchor="middle">2 Aug</text><text transform="translate(404.6,457.9) scale(0.975,1) rotate(0.03)" text-anchor="middle">16 Dec</text><text transform="translate(468.2,457.9) scale(0.975,1) rotate(0.03)" text-anchor="middle">30 Apr</text><text transform="translate(531.9,457.9) scale(0.975,1) rotate(0.03)" text-anchor="middle">13 Sep</text><text transform="translate(595.5,457.9) scale(0.975,1) rotate(0.03)" text-anchor="middle">27 Jan</text><text transform="translate(659.1,457.9) scale(0.975,1) rotate(0.03)" text-anchor="middle">12 Jun</text><text transform="translate(722.8,457.9) scale(0.975,1) rotate(0.03)" text-anchor="middle">26 Oct</text><text transform="translate(786.4,457.9) scale(0.975,1) rotate(0.03)" text-anchor="middle">11 Mar</text><text transform="translate(850.1,457.9) scale(0.975,1) rotate(0.03)" text-anchor="middle">25 Jul</text><text transform="translate(913.7,457.9) scale(0.975,1) rotate(0.03)" text-anchor="middle">9 Dec</text><text transform="translate(977.4,457.9) scale(0.975,1) rotate(0.03)" text-anchor="middle">24 Apr</text><text transform="translate(1041.0,457.9) scale(0.975,1) rotate(0.03)" text-anchor="middle">22 Sep</text><text transform="translate(1104.7,457.9) scale(0.975,1) rotate(0.03)" text-anchor="middle">5 Feb</text><text transform="translate(1168.3,457.9) scale(0.975,1) rotate(0.03)" text-anchor="middle">20 Jun</text><text transform="translate(1232.0,457.9) scale(0.975,1) rotate(0.03)" text-anchor="middle">4 Nov</text></g>
</svg>
</body></html>
